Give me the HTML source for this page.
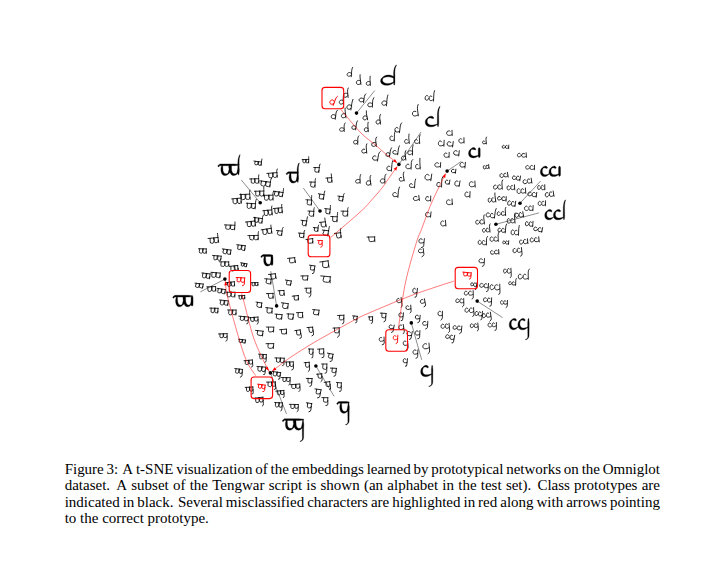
<!DOCTYPE html>
<html><head><meta charset="utf-8"><title>Figure 3</title>
<style>
html,body{margin:0;padding:0;background:#fff;}
body{width:728px;height:566px;position:relative;overflow:hidden;font-family:"Liberation Serif",serif;color:#000;}
.ln{position:absolute;left:64.7px;width:596px;white-space:nowrap;font-size:15px;line-height:17px;height:17px;}
.ln span{position:absolute;top:0;}
svg{position:absolute;left:0;top:0;}
</style></head><body>
<svg width="728" height="566" viewBox="0 0 728 566">
<g fill="none" stroke-linecap="round" stroke-linejoin="round">
<path transform="translate(349.6 72.2) rotate(2.37) translate(-2.23 -0.11)" d="M4.24 1.34 C2.76 -0.44 0 0.44 -0.19 2.54 C0 4.59 2.97 4.9 4.24 2.73 M4.95 -4.75 Q4.33 -3.28 4.24 -1.31 L4.11 4.55" stroke="#000" stroke-width="0.8"/>
<path transform="translate(358.3 79.8) rotate(-7.65) translate(-2.28 -0.13)" d="M4.33 1.6 C2.82 -0.04 0 0.5 0.03 2.9 C0 5.26 3.03 5.55 4.33 3.69 M4.72 -4.65 Q4.42 -3.76 4.33 -1.5 L4.26 5.21" stroke="#000" stroke-width="0.8"/>
<path transform="translate(368.2 81.2) rotate(-4.14) translate(-2.15 -0.11)" d="M4.09 1.08 C2.66 -0.29 0 0.43 0.06 2.52 C0 4.56 2.86 4.8 4.09 2.98 M4.47 -4.72 Q4.17 -3.26 4.09 -1.3 L3.99 4.51" stroke="#000" stroke-width="0.8"/>
<path transform="translate(345.5 92.9) rotate(-4.03) translate(-2.39 -0.12)" d="M4.56 1.35 C2.96 -0.52 0 0.46 0.13 2.69 C0 4.86 3.19 5.3 4.56 3.01 M5.45 -4.61 Q4.65 -3.47 4.56 -1.39 L4.7 4.82" stroke="#000" stroke-width="0.8"/>
<path transform="translate(362 97.7) rotate(8.62) translate(-2.42 -0.11)" d="M4.6 1.29 C2.99 -0.17 0 0.45 -0.16 2.61 C0 4.73 3.22 5.03 4.6 2.81 M5.59 -4.26 Q4.69 -3.38 4.6 -1.35 L4.63 4.68" stroke="#000" stroke-width="0.8"/>
<path transform="translate(370.3 102.5) rotate(3.21) translate(-2.48 -0.11)" d="M4.73 1.42 C3.07 -0.39 0 0.45 0.16 2.62 C0 4.75 3.31 5.31 4.73 3.06 M5.74 -4.92 Q4.83 -3.39 4.73 -1.36 L4.81 4.71" stroke="#000" stroke-width="0.8"/>
<path transform="translate(384.7 100.5) rotate(5.62) translate(-2.38 -0.13)" d="M4.53 1.45 C2.94 -0.27 0 0.52 -0.22 2.99 C0 5.42 3.17 5.76 4.53 3.31 M5 -5.62 Q4.62 -3.87 4.53 -1.55 L4.63 5.37" stroke="#000" stroke-width="0.8"/>
<path transform="translate(341.3 99.8) rotate(-2.57) translate(-2.14 -0.11)" d="M4.07 1.04 C2.65 -0.39 0 0.45 0.02 2.59 C0 4.69 2.85 5.2 4.07 3.21 M5.1 -4.66 Q4.16 -3.35 4.07 -1.34 L4.05 4.64" stroke="#000" stroke-width="0.8"/>
<path transform="translate(349.6 104.6) rotate(8.2) translate(-2.24 -0.13)" d="M4.28 1.26 C2.78 -0.62 0 0.51 -0.11 2.94 C0 5.31 2.99 5.66 4.28 3.5 M4.84 -5.56 Q4.36 -3.8 4.28 -1.52 L4.25 5.26" stroke="#000" stroke-width="0.8"/>
<path transform="translate(333.8 114.2) rotate(8.11) translate(-2.25 -0.12)" d="M4.28 1.44 C2.79 -0.29 0 0.48 0.08 2.76 C0 5 3 5.08 4.28 3.47 M5.3 -4.41 Q4.37 -3.57 4.28 -1.43 L4.39 4.95" stroke="#000" stroke-width="0.8"/>
<path transform="translate(343.4 113.5) rotate(-8.03) translate(-2.26 -0.12)" d="M4.31 1.06 C2.8 -0.69 0 0.46 -0.13 2.67 C0 4.84 3.01 4.97 4.31 3.04 M4.69 -5.07 Q4.39 -3.45 4.31 -1.38 L4.19 4.79" stroke="#000" stroke-width="0.8"/>
<path transform="translate(364.8 115.6) rotate(-9.52) translate(-2.13 -0.11)" d="M4.05 1.45 C2.63 -0.62 0 0.46 -0.1 2.65 C0 4.8 2.83 5.04 4.05 3.03 M4.47 -4.25 Q4.13 -3.43 4.05 -1.37 L4.21 4.75" stroke="#000" stroke-width="0.8"/>
<path transform="translate(377.9 119.7) rotate(-8.37) translate(-2.29 -0.12)" d="M4.37 1.29 C2.84 -0.55 0 0.47 0.14 2.72 C0 4.92 3.06 5.06 4.37 2.92 M5.55 -4.66 Q4.46 -3.51 4.37 -1.41 L4.25 4.87" stroke="#000" stroke-width="0.8"/>
<path transform="translate(342 127.3) rotate(0.03) translate(-2.33 -0.11)" d="M4.44 1.52 C2.88 -0.21 0 0.43 -0.11 2.47 C0 4.47 3.11 4.7 4.44 2.72 M5.48 -4.23 Q4.53 -3.19 4.44 -1.28 L4.54 4.43" stroke="#000" stroke-width="0.8"/>
<path transform="translate(354.2 125.2) rotate(5.42) translate(-2.23 -0.11)" d="M4.25 1.58 C2.76 -0.14 0 0.44 0.14 2.58 C0 4.66 2.98 5.1 4.25 2.87 M5.03 -4.57 Q4.34 -3.33 4.25 -1.33 L4.09 4.62" stroke="#000" stroke-width="0.8"/>
<path transform="translate(366.1 127.3) rotate(-5.08) translate(-2.09 -0.11)" d="M3.98 1.68 C2.59 -0.4 0 0.45 0.17 2.61 C0 4.72 2.79 5.29 3.98 3.3 M4.59 -4.74 Q4.06 -3.37 3.98 -1.35 L3.9 4.67" stroke="#000" stroke-width="0.8"/>
<path transform="translate(355.8 139.9) rotate(1.86) translate(-2.17 -0.11)" d="M4.13 1.57 C2.69 -0.37 0 0.44 0.06 2.56 C0 4.64 2.89 5.11 4.13 2.79 M5.01 -4.06 Q4.22 -3.32 4.13 -1.33 L4.23 4.6" stroke="#000" stroke-width="0.8"/>
<path transform="translate(373.7 142) rotate(-6.61) translate(-2.43 -0.12)" d="M4.62 1.28 C3 -0.15 0 0.47 0.22 2.71 C0 4.91 3.23 5.18 4.62 3.13 M5.86 -4.47 Q4.71 -3.51 4.62 -1.4 L4.5 4.87" stroke="#000" stroke-width="0.8"/>
<path transform="translate(388.2 152.3) rotate(7.19) translate(-2.14 -0.11)" d="M4.07 1.06 C2.65 -0.12 0 0.44 0.2 2.54 C0 4.59 2.85 4.98 4.07 2.89 M4.84 -4.69 Q4.15 -3.28 4.07 -1.31 L3.91 4.55" stroke="#000" stroke-width="0.8"/>
<path transform="translate(410.2 150.2) rotate(0.01) translate(-2.53 -0.12)" d="M4.81 1.4 C3.13 -0.1 0 0.48 0.16 2.81 C0 5.08 3.37 5.25 4.81 3.15 M5.48 -5.09 Q4.91 -3.63 4.81 -1.45 L4.85 5.03" stroke="#000" stroke-width="0.8"/>
<path transform="translate(403.3 155.7) rotate(-7.51) translate(-2.2 -0.12)" d="M4.19 1.28 C2.72 -0.4 0 0.46 0.03 2.68 C0 4.86 2.93 5.4 4.19 3.1 M5.29 -4.62 Q4.27 -3.47 4.19 -1.39 L4.2 4.81" stroke="#000" stroke-width="0.8"/>
<path transform="translate(357.9 179.1) rotate(-1.64) translate(-2.32 -0.11)" d="M4.42 0.94 C2.87 -0.14 0 0.42 -0.14 2.46 C0 4.46 3.09 4.74 4.42 3 M5.27 -4.4 Q4.51 -3.19 4.42 -1.27 L4.43 4.42" stroke="#000" stroke-width="0.8"/>
<path transform="translate(368.2 180.5) rotate(-7.98) translate(-2.34 -0.12)" d="M4.45 1.29 C2.89 -0.57 0 0.5 0.12 2.88 C0 5.22 3.11 5.57 4.45 3.41 M5.48 -4.56 Q4.54 -3.73 4.45 -1.49 L4.43 5.17" stroke="#000" stroke-width="0.8"/>
<path transform="translate(382.7 178.5) rotate(-0.27) translate(-2.36 -0.12)" d="M4.5 1.38 C2.92 -0.35 0 0.47 -0.01 2.73 C0 4.94 3.15 5.52 4.5 3.31 M5.65 -4.29 Q4.59 -3.53 4.5 -1.41 L4.41 4.89" stroke="#000" stroke-width="0.8"/>
<path transform="translate(397.8 127.3) rotate(5.96) translate(-2.56 -0.13)" d="M2.83 0.99 C2.23 -0.67 0 0.51 -0.12 2.81 C0 5.12 2.23 5.47 4.67 4.2 M5.95 -4.71 Q4.99 -3.84 4.9 -1.54 L4.77 5.32" stroke="#000" stroke-width="0.8"/>
<path transform="translate(415 110.8) rotate(-7.28) translate(-2.9 -0.13)" d="M3.72 0.89 C2.52 -0.14 0 0.53 -0.05 2.93 C0 5.34 2.52 5.97 5.3 4.58 M6.8 -5.7 Q5.66 -4 5.55 -1.6 L5.53 5.55" stroke="#000" stroke-width="0.8"/>
<path transform="translate(364.1 148.8) rotate(-6.28) translate(-2.54 -0.11)" d="M3.12 0.65 C2.21 -0.33 0 0.45 -0.03 2.5 C0 4.55 2.21 4.83 4.63 3.55 M5.76 -4.54 Q4.94 -3.41 4.86 -1.36 L4.7 4.73" stroke="#000" stroke-width="0.8"/>
<path transform="translate(375.8 155.7) rotate(8.46) translate(-2.78 -0.12)" d="M3.15 0.72 C2.41 -0.23 0 0.5 -0.11 2.73 C0 4.97 2.41 5.35 5.07 3.93 M6.58 -4.65 Q5.41 -3.73 5.31 -1.49 L5.22 5.17" stroke="#000" stroke-width="0.8"/>
<path transform="translate(392.3 135.8) rotate(0.84) translate(-2.35 -0.13)" d="M2.58 0.75 C2.05 -0.29 0 0.51 -0.03 2.8 C0 5.09 2.05 5.44 4.3 4.34 M5.35 -4.79 Q4.58 -3.82 4.5 -1.53 L4.36 5.3" stroke="#000" stroke-width="0.8"/>
<path transform="translate(395.8 150.2) rotate(6.39) translate(-2.71 -0.11)" d="M3.11 0.89 C2.36 -0.12 0 0.43 -0.11 2.36 C0 4.29 2.36 4.62 4.95 3.45 M5.79 -4.63 Q5.28 -3.22 5.18 -1.29 L5.06 4.46" stroke="#000" stroke-width="0.8"/>
<path transform="translate(406.8 139.2) rotate(-4.07) translate(-2.3 -0.11)" d="M2.85 0.77 C2 -0.35 0 0.44 -0.13 2.43 C0 4.42 2 4.87 4.2 3.28 M4.93 -4.85 Q4.48 -3.31 4.4 -1.33 L4.48 4.6" stroke="#000" stroke-width="0.8"/>
<path transform="translate(417.1 139.2) rotate(-0.98) translate(-2.56 -0.11)" d="M2.81 1.05 C2.22 -0.39 0 0.44 0 2.42 C0 4.41 2.22 5.11 4.67 3.47 M5.7 -4.24 Q4.98 -3.31 4.89 -1.32 L5.06 4.58" stroke="#000" stroke-width="0.8"/>
<path transform="translate(389.6 166) rotate(3.43) translate(-2.45 -0.13)" d="M2.85 0.91 C2.13 -0.67 0 0.5 -0.16 2.76 C0 5.01 2.13 5.36 4.47 4.15 M5.25 -5.35 Q4.77 -3.76 4.69 -1.5 L4.55 5.21" stroke="#000" stroke-width="0.8"/>
<path transform="translate(408.8 164) rotate(2.74) translate(-2.7 -0.13)" d="M3.05 0.88 C2.35 -0.43 0 0.5 -0.16 2.78 C0 5.05 2.35 5.62 4.94 3.9 M6.45 -4.57 Q5.26 -3.79 5.17 -1.51 L5.19 5.25" stroke="#000" stroke-width="0.8"/>
<path transform="translate(417.8 164) rotate(-4.12) translate(-2.4 -0.13)" d="M2.59 0.95 C2.09 -0.43 0 0.51 0 2.83 C0 5.14 2.09 5.57 4.38 4.11 M4.93 -5.38 Q4.68 -3.85 4.59 -1.54 L4.46 5.34" stroke="#000" stroke-width="0.8"/>
<path transform="translate(401.3 177) rotate(-9.57) translate(-2.48 -0.11)" d="M2.79 0.9 C2.16 -0.33 0 0.43 0.11 2.35 C0 4.27 2.16 4.86 4.53 3.53 M5.85 -4.36 Q4.83 -3.2 4.74 -1.28 L4.68 4.44" stroke="#000" stroke-width="0.8"/>
<path transform="translate(412.3 183.3) rotate(3.76) translate(-2.78 -0.11)" d="M3.02 1.05 C2.41 -0.14 0 0.44 0.06 2.4 C0 4.37 2.41 5.02 5.07 3.66 M5.83 -4.35 Q5.41 -3.28 5.31 -1.31 L5.31 4.55" stroke="#000" stroke-width="0.8"/>
<path transform="translate(395.8 192.2) rotate(5.7) translate(-2.7 -0.12)" d="M3.41 1.11 C2.35 -0.28 0 0.5 -0.13 2.74 C0 4.99 2.35 5.3 4.93 3.77 M5.88 -5.38 Q5.26 -3.74 5.16 -1.5 L5.29 5.19" stroke="#000" stroke-width="0.8"/>
<path transform="translate(439.3 182.1) rotate(1.9) translate(-2.56 -0.12)" d="M3.02 0.68 C2.23 -0.21 0 0.48 0.11 2.65 C0 4.82 2.23 5.4 4.67 3.88 M5.84 -5.24 Q4.99 -3.62 4.9 -1.45 L4.98 5.01" stroke="#000" stroke-width="0.8"/>
<path transform="translate(484.3 140.6) rotate(-4.95) translate(-1.92 -0.09)" d="M2.16 0.79 C1.67 -0.08 0 0.34 0 1.89 C0 3.44 1.67 3.8 3.51 2.74 M4.41 -3.26 Q3.75 -2.58 3.68 -1.03 L3.71 3.58" stroke="#000" stroke-width="0.8"/>
<path transform="translate(416.4 198.4) rotate(-7.2) translate(-2.86 -2.48)" d="M3.53 0.84 C2.49 -0.34 0 0.47 -0.24 2.6 C0 4.73 2.49 5.05 5.23 3.66 M5.56 -0.09 L5.57 4.92" stroke="#000" stroke-width="0.8"/>
<path transform="translate(449.6 133) rotate(-0.19) translate(-2.88 -2.6)" d="M3.39 0.76 C2.51 -0.16 0 0.5 -0.15 2.72 C0 4.95 2.51 5.83 5.26 4.22 M5.27 -0.1 L5.49 5.15" stroke="#000" stroke-width="0.8"/>
<path transform="translate(441.3 143.4) rotate(-1.46) translate(-2.96 -2.97)" d="M3.32 1.43 C2.57 -0.65 0 0.57 0.04 3.11 C0 5.65 2.57 6.09 5.41 4.54 M5.9 -0.11 L5.48 5.88" stroke="#000" stroke-width="0.8"/>
<path transform="translate(450.3 144) rotate(6.85) translate(-2.96 -2.72)" d="M3.34 1.28 C2.57 -0.42 0 0.52 -0.24 2.85 C0 5.18 2.57 5.49 5.41 4.14 M5.64 -0.1 L5.56 5.39" stroke="#000" stroke-width="0.8"/>
<path transform="translate(461.6 140.6) rotate(-3.99) translate(-2.58 -2.63)" d="M2.79 1.15 C2.25 -0.2 0 0.5 -0.17 2.75 C0 5.01 2.25 5.87 4.72 4.13 M5.12 -0.1 L4.85 5.21" stroke="#000" stroke-width="0.8"/>
<path transform="translate(456.5 153) rotate(8.98) translate(-2.71 -2.66)" d="M3.13 0.97 C2.36 -0.54 0 0.51 -0.21 2.78 C0 5.06 2.36 5.42 4.95 4.25 M5.09 -0.1 L5.39 5.26" stroke="#000" stroke-width="0.8"/>
<path transform="translate(446.6 155) rotate(-0.29) translate(-2.64 -2.59)" d="M3.06 1.26 C2.3 -0.17 0 0.49 0.14 2.71 C0 4.93 2.3 5.6 4.83 4.19 M5.26 -0.1 L5.08 5.12" stroke="#000" stroke-width="0.8"/>
<path transform="translate(437.9 164.9) rotate(3.91) translate(-2.91 -2.47)" d="M3.59 1.02 C2.53 -0.5 0 0.47 -0.23 2.59 C0 4.7 2.53 5.51 5.31 3.55 M5.54 -0.09 L5.48 4.89" stroke="#000" stroke-width="0.8"/>
<path transform="translate(462.7 164.9) rotate(8.55) translate(-2.67 -2.84)" d="M3.25 0.95 C2.32 -0.4 0 0.54 -0.05 2.98 C0 5.42 2.32 5.85 4.88 4.11 M4.97 -0.11 L5.3 5.63" stroke="#000" stroke-width="0.8"/>
<path transform="translate(453.7 171.1) rotate(7.22) translate(-2.23 -2.05)" d="M2.61 0.61 C1.93 -0.46 0 0.39 -0.16 2.15 C0 3.9 1.93 4.3 4.06 2.93 M4.16 -0.08 L4.16 4.06" stroke="#000" stroke-width="0.8"/>
<path transform="translate(428.3 177.3) rotate(4.24) translate(-3.25 -3.36)" d="M3.78 1.3 C2.82 -0.61 0 0.64 -0.09 3.52 C0 6.41 2.82 6.84 5.93 4.95 M6.47 -0.13 L6 6.66" stroke="#000" stroke-width="0.8"/>
<path transform="translate(447.5 182.1) rotate(6.39) translate(-2.23 -2.23)" d="M2.53 0.72 C1.94 -0.39 0 0.42 -0.02 2.33 C0 4.24 1.94 4.98 4.07 3.57 M4.41 -0.08 L4.08 4.41" stroke="#000" stroke-width="0.8"/>
<path transform="translate(457.2 183.5) rotate(7.02) translate(-2.52 -2.83)" d="M3.03 0.75 C2.19 -0.5 0 0.54 0.19 2.96 C0 5.39 2.19 6.24 4.61 4.54 M5.03 -0.11 L4.72 5.6" stroke="#000" stroke-width="0.8"/>
<path transform="translate(472.3 184.2) rotate(-0.08) translate(-3.08 -3.03)" d="M3.92 1.31 C2.68 -0.36 0 0.58 0.14 3.18 C0 5.78 2.68 6.44 5.62 4.66 M5.64 -0.12 L6.04 6.01" stroke="#000" stroke-width="0.8"/>
<path transform="translate(467.5 194.5) rotate(2.26) translate(-2.63 -2.94)" d="M2.91 0.95 C2.29 -0.36 0 0.56 0.09 3.08 C0 5.6 2.29 6.02 4.81 4.19 M5.05 -0.11 L5.08 5.83" stroke="#000" stroke-width="0.8"/>
<path transform="translate(428.3 198.6) rotate(1.42) translate(-2.72 -2.56)" d="M3.1 0.95 C2.37 -0.12 0 0.49 0.07 2.69 C0 4.88 2.37 5.7 4.97 3.89 M5.08 -0.1 L5.09 5.08" stroke="#000" stroke-width="0.8"/>
<path transform="translate(449.6 202.1) rotate(-4.16) translate(-3.04 -2.83)" d="M3.59 1.19 C2.64 -0.48 0 0.54 -0.13 2.96 C0 5.38 2.64 6.14 5.55 4.58 M5.67 -0.11 L5.57 5.6" stroke="#000" stroke-width="0.8"/>
<path transform="translate(428.3 214.5) rotate(2.97) translate(-2.69 -2.67)" d="M3.35 1.16 C2.34 -0.4 0 0.51 -0.14 2.8 C0 5.09 2.34 5.99 4.92 3.96 M5.3 -0.1 L5.03 5.29" stroke="#000" stroke-width="0.8"/>
<path transform="translate(443.4 223.4) rotate(-4.4) translate(-2.63 -2.86)" d="M3.11 0.88 C2.29 -0.62 0 0.54 -0.04 2.99 C0 5.44 2.29 6.2 4.8 4.64 M4.87 -0.11 L4.98 5.66" stroke="#000" stroke-width="0.8"/>
<path transform="translate(486.1 167) rotate(-7.3) translate(-2.89 -2.03)" d="M1.68 0.72 C1.34 -0.12 0 0.39 0.1 2.12 C0 3.86 1.34 4.43 2.42 3.24 M4.65 0.69 C4.03 -0.45 2.69 0.39 2.8 2.12 C2.69 3.86 4.03 4.44 5.51 2.87 M5.69 -0.08 L5.61 4.01" stroke="#000" stroke-width="0.8"/>
<path transform="translate(504 175.2) rotate(-6.78) translate(-3.98 -2.38)" d="M2.42 0.83 C1.85 -0.12 0 0.45 -0.14 2.5 C0 4.54 1.85 5.34 3.33 3.38 M6.16 1.08 C5.56 -0.19 3.7 0.45 3.68 2.5 C3.7 4.54 5.56 4.84 7.59 3.62 M7.73 -0.09 L7.93 4.72" stroke="#000" stroke-width="0.8"/>
<path transform="translate(516.4 178) rotate(7.04) translate(-3.83 -2.4)" d="M2.39 1.09 C1.78 -0.22 0 0.46 -0.16 2.51 C0 4.57 1.78 4.87 3.21 3.33 M6.17 0.78 C5.35 -0.23 3.57 0.46 3.71 2.51 C3.57 4.57 5.35 5.03 7.31 3.53 M7.65 -0.09 L7.53 4.76" stroke="#000" stroke-width="0.8"/>
<path transform="translate(510.9 187.6) rotate(-3.99) translate(-3.89 -2.57)" d="M2.25 1.13 C1.81 -0.15 0 0.49 0.05 2.7 C0 4.9 1.81 5.75 3.26 3.54 M5.96 0.97 C5.43 -0.12 3.62 0.49 3.78 2.7 C3.62 4.9 5.43 5.43 7.42 3.78 M7.58 -0.1 L7.6 5.1" stroke="#000" stroke-width="0.8"/>
<path transform="translate(502 198.6) rotate(5.25) translate(-4.43 -2.31)" d="M2.97 1.02 C2.06 -0.3 0 0.44 -0.07 2.42 C0 4.4 2.06 4.83 4.13 2.35 M7.07 0.66 C6.19 -0.51 4.13 0.44 4.23 2.42 C4.13 4.4 6.19 4.8 8.46 3.29 M8.47 -0.09 L8.68 4.58" stroke="#000" stroke-width="0.8"/>
<path transform="translate(511.6 203.5) rotate(6.79) translate(-3.94 -2.7)" d="M2.39 0.77 C1.83 -0.66 0 0.52 0 2.83 C0 5.15 1.83 5.9 3.67 2.8 M6.04 0.98 C5.5 -0.34 3.67 0.52 3.73 2.83 C3.67 5.15 5.5 5.92 7.52 4.34 M7.76 -0.1 L7.56 5.36" stroke="#000" stroke-width="0.8"/>
<path transform="translate(505.5 146.9) rotate(0.77) translate(-3.27 -1.77)" d="M2.16 0.55 C1.52 -0.37 0 0.34 -0.08 1.86 C0 3.38 1.52 3.64 3.04 2.01 M5.14 0.61 C4.57 -0.31 3.04 0.34 3.19 1.86 C3.04 3.38 4.57 3.79 6.24 2.59 M6.49 -0.07 L6.44 3.51" stroke="#000" stroke-width="0.8"/>
<path transform="translate(522 155.2) rotate(-0.98) translate(-4.49 -2.27)" d="M3.01 1.08 C2.09 -0.58 0 0.43 -0.09 2.38 C0 4.33 2.09 4.65 4.17 2.22 M7.25 0.91 C6.26 -0.12 4.17 0.43 4.12 2.38 C4.17 4.33 6.26 5.04 8.55 3.43 M8.66 -0.09 L8.88 4.5" stroke="#000" stroke-width="0.8"/>
<path transform="translate(530.3 167.5) rotate(1.33) translate(-4.45 -2.27)" d="M2.67 0.8 C2.07 -0.53 0 0.43 -0.12 2.38 C0 4.33 2.07 4.72 4.14 2.43 M7.03 0.71 C6.21 -0.6 4.14 0.43 4.07 2.38 C4.14 4.33 6.21 4.94 8.48 3.3 M8.61 -0.09 L8.57 4.5" stroke="#000" stroke-width="0.8"/>
<path transform="translate(527.5 181.3) rotate(-8.8) translate(-4.33 -2.49)" d="M2.69 0.98 C2.01 -0.3 0 0.47 -0.16 2.61 C0 4.75 2.01 5.12 3.62 3.81 M6.72 0.83 C6.04 -0.49 4.02 0.47 4.21 2.61 C4.02 4.75 6.04 5.21 8.25 3.83 M8.39 -0.09 L8.42 4.93" stroke="#000" stroke-width="0.8"/>
<path transform="translate(521.3 191) rotate(-3.09) translate(-4.38 -2.71)" d="M2.88 0.85 C2.04 -0.72 0 0.52 0.16 2.84 C0 5.17 2.04 5.74 3.67 4.23 M6.8 1.27 C6.12 -0.44 4.08 0.52 3.94 2.84 C4.08 5.17 6.12 5.49 8.36 4.17 M8.62 -0.1 L8.73 5.37" stroke="#000" stroke-width="0.8"/>
<path transform="translate(541.3 187.5) rotate(-2.95) translate(-3.75 -2.53)" d="M2.22 0.84 C1.74 -0.37 0 0.48 0.15 2.65 C0 4.81 1.74 5.17 3.49 2.64 M5.99 1.23 C5.23 -0.56 3.49 0.48 3.36 2.65 C3.49 4.81 5.23 5.65 7.15 4.13 M7.32 -0.1 L7.17 5.01" stroke="#000" stroke-width="0.8"/>
<path transform="translate(532.4 194.4) rotate(7.18) translate(-4.43 -2.41)" d="M2.96 0.73 C2.06 -0.21 0 0.46 -0.11 2.53 C0 4.59 2.06 5.09 4.12 2.72 M7.09 0.74 C6.19 -0.52 4.12 0.46 4.08 2.53 C4.12 4.59 6.19 5.16 8.45 3.61 M8.5 -0.09 L8.56 4.78" stroke="#000" stroke-width="0.8"/>
<path transform="translate(549.6 194.4) rotate(-9.22) translate(-4.27 -2.66)" d="M2.82 0.73 C1.99 -0.2 0 0.51 -0.15 2.79 C0 5.07 1.99 5.74 3.97 2.82 M6.73 0.9 C5.96 -0.45 3.97 0.51 4 2.79 C3.97 5.07 5.96 5.64 8.14 4.16 M8.32 -0.1 L8.31 5.28" stroke="#000" stroke-width="0.8"/>
<path transform="translate(542 203.4) rotate(-0.7) translate(-3.7 -2.53)" d="M2.45 1.12 C1.72 -0.41 0 0.48 -0.11 2.65 C0 4.81 1.72 5.37 3.09 3.53 M5.62 0.92 C5.16 -0.62 3.44 0.48 3.42 2.65 C3.44 4.81 5.16 5.4 7.05 3.58 M7.27 -0.1 L7.08 5" stroke="#000" stroke-width="0.8"/>
<path transform="translate(528.9 208.2) rotate(-0.28) translate(-4.28 -2.6)" d="M2.71 0.92 C1.99 -0.13 0 0.5 -0.14 2.73 C0 4.96 1.99 5.77 3.58 4.16 M6.79 1.18 C5.97 -0.58 3.98 0.5 4.17 2.73 C3.98 4.96 5.97 5.55 8.15 4.24 M8.52 -0.1 L8.22 5.16" stroke="#000" stroke-width="0.8"/>
<path transform="translate(519.3 215) rotate(-8.76) translate(-4.32 -2.68)" d="M2.86 0.81 C2.01 -0.17 0 0.51 -0.09 2.81 C0 5.1 2.01 5.91 4.02 2.59 M6.75 1.28 C6.03 -0.59 4.02 0.51 3.92 2.81 C4.02 5.1 6.03 5.72 8.24 3.97 M8.25 -0.1 L8.31 5.31" stroke="#000" stroke-width="0.8"/>
<path transform="translate(529.2 223.9) rotate(2.91) translate(-3.81 -2.68)" d="M2.27 1.2 C1.77 -0.64 0 0.51 0.01 2.81 C0 5.11 1.77 5.81 3.54 2.72 M6.11 1.06 C5.31 -0.36 3.54 0.51 3.68 2.81 C3.54 5.11 5.31 5.48 7.26 4.39 M7.49 -0.1 L7.4 5.31" stroke="#000" stroke-width="0.8"/>
<path transform="translate(538.2 229.4) rotate(8.82) translate(-4.33 -2.35)" d="M2.67 1.04 C2.01 -0.39 0 0.45 -0.13 2.46 C0 4.48 2.01 5.15 4.03 2.22 M6.92 0.76 C6.04 -0.28 4.03 0.45 4.22 2.46 C4.03 4.48 6.04 5.06 8.25 3.67 M8.38 -0.09 L8.25 4.66" stroke="#000" stroke-width="0.8"/>
<path transform="translate(505.8 242.5) rotate(1.7) translate(-2.96 -1.84)" d="M1.88 0.87 C1.38 -0.43 0 0.35 -0.08 1.92 C0 3.5 1.38 3.98 2.76 1.72 M4.47 0.64 C4.13 -0.44 2.76 0.35 2.72 1.92 C2.76 3.5 4.13 3.8 5.65 2.83 M5.81 -0.07 L5.71 3.64" stroke="#000" stroke-width="0.8"/>
<path transform="translate(523.7 241.8) rotate(-7.44) translate(-4.19 -2.46)" d="M2.53 0.74 C1.95 -0.6 0 0.47 0.05 2.57 C0 4.68 1.95 5.45 3.89 2.73 M6.5 0.8 C5.84 -0.65 3.89 0.47 3.95 2.57 C3.89 4.68 5.84 5.27 7.98 3.66 M8.23 -0.09 L8.16 4.86" stroke="#000" stroke-width="0.8"/>
<path transform="translate(534.7 239.8) rotate(-5.28) translate(-4.44 -2.58)" d="M2.58 1 C2.07 -0.45 0 0.49 -0.11 2.71 C0 4.92 2.07 5.25 4.13 2.87 M6.7 1.01 C6.2 -0.13 4.13 0.49 3.98 2.71 C4.13 4.92 6.2 5.33 8.47 4 M8.68 -0.1 L8.74 5.12" stroke="#000" stroke-width="0.8"/>
<path transform="translate(494.8 252.2) rotate(-4.12) translate(-4.34 -2.31)" d="M2.53 1.08 C2.02 -0.2 0 0.44 0.09 2.42 C0 4.39 2.02 4.66 3.63 3.61 M6.9 0.86 C6.06 -0.22 4.04 0.44 4.02 2.42 C4.04 4.39 6.06 4.78 8.28 3.31 M8.37 -0.09 L8.29 4.57" stroke="#000" stroke-width="0.8"/>
<path transform="translate(429.6 95.8) rotate(3.21) translate(-4.35 -0.54)" d="M2.85 0.93 C2.02 -0.4 0 0.54 -0.03 2.99 C0 5.43 2.02 6.27 4.04 3 M6.68 1.18 C6.06 -0.13 4.04 0.54 3.93 2.99 C4.04 5.43 6.06 6.33 8.29 4.03 M9.02 -4.9 Q8.57 -3.46 8.49 -1.63 L8.57 5.65" stroke="#000" stroke-width="0.8"/>
<path transform="translate(497.8 184.9) rotate(-3.79) translate(-4.45 -0.49)" d="M2.73 0.83 C2.07 -0.15 0 0.49 0.05 2.71 C0 4.93 2.07 5.64 4.14 2.81 M7.19 0.97 C6.21 -0.19 4.14 0.49 4.22 2.71 C4.14 4.93 6.21 5.73 8.48 3.91 M9.62 -4.12 Q8.77 -3.14 8.69 -1.48 L8.63 5.13" stroke="#000" stroke-width="0.8"/>
<path transform="translate(491.6 198) rotate(-8.52) translate(-3.85 -0.48)" d="M2.28 0.69 C1.79 -0.61 0 0.48 0.15 2.65 C0 4.82 1.79 5.3 3.58 2.44 M5.81 0.7 C5.37 -0.27 3.58 0.48 3.63 2.65 C3.58 4.82 5.37 5.51 7.34 3.99 M7.85 -4.01 Q7.59 -3.07 7.52 -1.44 L7.48 5.01" stroke="#000" stroke-width="0.8"/>
<path transform="translate(490.9 213.1) rotate(6.93) translate(-4.34 -0.5)" d="M2.93 1.25 C2.02 -0.13 0 0.5 -0.16 2.75 C0 5 2.02 5.42 3.64 3.67 M6.56 1.21 C6.06 -0.21 4.04 0.5 4.1 2.75 C4.04 5 6.06 5.8 8.28 4.08 M9.04 -4.65 Q8.57 -3.19 8.49 -1.5 L8.36 5.2" stroke="#000" stroke-width="0.8"/>
<path transform="translate(501.3 211.7) rotate(-3.94) translate(-4.3 -0.44)" d="M2.49 0.76 C2 -0.47 0 0.44 0.09 2.43 C0 4.42 2 4.88 4 2.34 M6.94 0.89 C5.99 -0.17 4 0.44 4.04 2.43 C4 4.42 5.99 4.7 8.19 3.49 M9.06 -3.52 Q8.47 -2.82 8.39 -1.33 L8.34 4.6" stroke="#000" stroke-width="0.8"/>
<path transform="translate(479.9 220) rotate(-5.89) translate(-4.25 -0.47)" d="M2.5 1.13 C1.98 -0.57 0 0.47 -0.2 2.6 C0 4.74 1.98 5.13 3.96 2.75 M6.87 0.67 C5.93 -0.38 3.96 0.47 3.95 2.6 C3.96 4.74 5.93 5.47 8.11 3.61 M9.01 -4.17 Q8.39 -3.02 8.31 -1.42 L8.41 4.93" stroke="#000" stroke-width="0.8"/>
<path transform="translate(510.9 218.6) rotate(-4.61) translate(-3.89 -0.51)" d="M2.55 1.02 C1.81 -0.65 0 0.51 0.05 2.81 C0 5.12 1.81 5.47 3.26 4.17 M6.16 1.2 C5.43 -0.33 3.62 0.51 3.57 2.81 C3.62 5.12 5.43 5.67 7.42 4.03 M8.53 -4.77 Q7.67 -3.26 7.6 -1.54 L7.71 5.32" stroke="#000" stroke-width="0.8"/>
<path transform="translate(486.1 228.3) rotate(-5) translate(-3.7 -0.44)" d="M2.34 0.82 C1.72 -0.15 0 0.44 -0.09 2.43 C0 4.42 1.72 4.93 3.44 2.45 M5.88 1.02 C5.16 -0.28 3.44 0.44 3.39 2.43 C3.44 4.42 5.16 4.86 7.05 3.36 M8.08 -3.62 Q7.29 -2.82 7.22 -1.33 L7.29 4.6" stroke="#000" stroke-width="0.8"/>
<path transform="translate(502 228.3) rotate(4.7) translate(-3.82 -0.46)" d="M2.25 0.91 C1.77 -0.16 0 0.46 -0.09 2.55 C0 4.64 1.77 5.03 3.55 2.44 M6.05 1.12 C5.32 -0.56 3.55 0.46 3.43 2.55 C3.55 4.64 5.32 5.06 7.28 3.62 M8.11 -4.26 Q7.52 -2.96 7.45 -1.39 L7.4 4.83" stroke="#000" stroke-width="0.8"/>
<path transform="translate(515 230.3) rotate(3.85) translate(-3.83 -0.51)" d="M2.62 0.78 C1.78 -0.48 0 0.51 0.17 2.83 C0 5.15 1.78 5.95 3.21 4.16 M5.96 0.84 C5.35 -0.33 3.56 0.51 3.42 2.83 C3.56 5.15 5.35 5.58 7.31 4.05 M7.79 -4.48 Q7.56 -3.28 7.48 -1.54 L7.57 5.35" stroke="#000" stroke-width="0.8"/>
<path transform="translate(482.4 240.5) rotate(2.02) translate(-4.24 -0.47)" d="M2.51 1 C1.97 -0.43 0 0.47 0.1 2.59 C0 4.7 1.97 5.49 3.95 2.55 M6.67 1.08 C5.92 -0.42 3.95 0.47 3.84 2.59 C3.95 4.7 5.92 5.39 8.09 3.97 M9.22 -3.81 Q8.37 -3 8.29 -1.41 L8.4 4.89" stroke="#000" stroke-width="0.8"/>
<path transform="translate(494.1 237) rotate(-1.38) translate(-4.23 -0.48)" d="M2.74 0.73 C1.97 -0.43 0 0.48 0.11 2.66 C0 4.83 1.97 5.54 3.54 3.84 M6.5 0.92 C5.9 -0.41 3.94 0.48 3.98 2.66 C3.94 4.83 5.9 5.36 8.07 3.97 M9.31 -4.41 Q8.35 -3.08 8.27 -1.45 L8.32 5.03" stroke="#000" stroke-width="0.8"/>
<path transform="translate(523.3 274.3) rotate(-0.69) translate(-5.17 -0.55)" d="M3.01 1.13 C2.41 -0.67 0 0.55 0.14 3.03 C0 5.51 2.41 6.47 4.81 3.05 M7.86 1.15 C7.22 -0.41 4.81 0.55 4.92 3.03 C4.81 5.51 7.22 6.18 9.87 4.5 M11.29 -4.66 Q10.21 -3.52 10.11 -1.65 L10.07 5.74" stroke="#000" stroke-width="0.8"/>
<path transform="translate(512.3 281.9) rotate(3) translate(-3.56 -0.35)" d="M2.36 0.55 C1.66 -0.08 0 0.35 -0.05 1.95 C0 3.54 1.66 3.78 3.31 1.85 M5.52 0.5 C4.97 -0.32 3.31 0.35 3.29 1.95 C3.31 3.54 4.97 4.05 6.79 2.77 M7.4 -3.21 Q7.02 -2.26 6.96 -1.06 L7.02 3.68" stroke="#000" stroke-width="0.8"/>
<path transform="translate(517.5 252.2) rotate(-5.84) translate(-4.44 -4.25)" d="M2.76 0.78 C2.07 -0.59 0 0.47 0.11 2.6 C0 4.73 2.07 5.47 4.13 2.68 M6.93 0.98 C6.2 -0.53 4.13 0.47 4.33 2.6 C4.13 4.73 6.2 5.21 8.48 3.86 M8.81 0 L8.79 6.62 Q8.68 8.24 7.07 8.55" stroke="#000" stroke-width="0.8"/>
<path transform="translate(507.5 272.9) rotate(-3.26) translate(-3.78 -4.51)" d="M2.29 0.93 C1.76 -0.55 0 0.5 -0.03 2.76 C0 5.01 1.76 5.43 3.52 2.46 M6 0.87 C5.27 -0.55 3.52 0.5 3.45 2.76 C3.52 5.01 5.27 5.6 7.21 3.97 M7.43 0 L7.43 7.02 Q7.38 8.64 6.45 9.38" stroke="#000" stroke-width="0.8"/>
<path transform="translate(473.7 286) rotate(7.21) translate(-2.98 -3.61)" d="M1.76 0.96 C1.39 -0.26 0 0.4 -0.13 2.2 C0 4.01 1.39 4.25 2.77 2.42 M4.71 0.68 C4.16 -0.51 2.77 0.4 2.67 2.2 C2.77 4.01 4.16 4.36 5.68 3.34 M5.78 0 L5.74 5.61 Q5.82 7.34 5.01 6.95" stroke="#000" stroke-width="0.8"/>
<path transform="translate(484.1 287.4) rotate(4.84) translate(-4.4 -4.32)" d="M2.98 1.13 C2.05 -0.19 0 0.48 -0.12 2.64 C0 4.8 2.05 5.49 4.1 2.66 M7 0.92 C6.15 -0.16 4.1 0.48 4.12 2.64 C4.1 4.8 6.15 5.24 8.4 3.69 M8.46 0 L8.6 6.72 Q8.6 7.98 7.14 8.3" stroke="#000" stroke-width="0.8"/>
<path transform="translate(495.1 289.4) rotate(0.25) translate(-5.1 -5.29)" d="M2.94 1.41 C2.37 -0.49 0 0.59 0.03 3.23 C0 5.87 2.37 6.69 4.74 3.47 M7.9 1.12 C7.11 -0.15 4.74 0.59 4.54 3.23 C4.74 5.87 7.11 6.67 9.72 4.79 M9.73 0 L10 8.22 Q9.96 10.49 8.71 10.37" stroke="#000" stroke-width="0.8"/>
<path transform="translate(468.9 294.9) rotate(-0.79) translate(-4.48 -4.24)" d="M2.6 1.07 C2.08 -0.31 0 0.47 -0.07 2.59 C0 4.71 2.08 5.48 4.17 2.51 M6.99 0.96 C6.25 -0.22 4.17 0.47 4.05 2.59 C4.17 4.71 6.25 5.24 8.54 3.72 M8.77 0 L8.86 6.59 Q8.75 8.05 7.56 8.39" stroke="#000" stroke-width="0.8"/>
<path transform="translate(460 302.5) rotate(-0.38) translate(-4.09 -4.04)" d="M2.66 1.05 C1.9 -0.45 0 0.45 -0.07 2.47 C0 4.49 1.9 4.92 3.8 2.51 M6.45 1.05 C5.7 -0.61 3.8 0.45 3.89 2.47 C3.8 4.49 5.7 5.23 7.8 3.61 M7.81 0 L7.93 6.28 Q7.99 7.41 6.42 8.45" stroke="#000" stroke-width="0.8"/>
<path transform="translate(487.5 301.8) rotate(4.99) translate(-4.17 -4.36)" d="M2.69 1.04 C1.94 -0.31 0 0.48 0.08 2.67 C0 4.85 1.94 5.49 3.88 2.77 M6.39 1.07 C5.82 -0.41 3.88 0.48 3.98 2.67 C3.88 4.85 5.82 5.2 7.96 3.69 M7.97 0 L8.24 6.79 Q8.15 8.89 6.92 8.6" stroke="#000" stroke-width="0.8"/>
<path transform="translate(504 303.9) rotate(0.68) translate(-3.48 -3.58)" d="M2.12 0.76 C1.62 -0.4 0 0.4 -0.02 2.19 C0 3.98 1.62 4.52 2.91 3.31 M5.26 0.83 C4.85 -0.54 3.24 0.4 3.11 2.19 C3.24 3.98 4.85 4.6 6.63 3.22 M6.93 0 L6.78 5.57 Q6.8 6.57 5.59 7.23" stroke="#000" stroke-width="0.8"/>
<path transform="translate(469.6 312.2) rotate(-0.97) translate(-4.44 -4.64)" d="M2.61 1.12 C2.07 -0.59 0 0.52 -0.14 2.83 C0 5.15 2.07 5.47 4.13 2.53 M7.03 0.8 C6.2 -0.12 4.13 0.52 3.96 2.83 C4.13 5.15 6.2 6 8.47 3.89 M8.48 0 L8.75 7.21 Q8.68 8.75 7.43 8.95" stroke="#000" stroke-width="0.8"/>
<path transform="translate(478.6 315.6) rotate(3.56) translate(-3.72 -4.46)" d="M2.45 0.74 C1.73 -0.32 0 0.5 0.07 2.73 C0 4.96 1.73 5.53 3.46 2.98 M5.71 1.27 C5.19 -0.27 3.46 0.5 3.29 2.73 C3.46 4.96 5.19 5.26 7.09 4.06 M7.37 0 L7.15 6.94 Q7.26 8.49 6.21 8.59" stroke="#000" stroke-width="0.8"/>
<path transform="translate(486.8 317) rotate(-8.86) translate(-4.38 -4.22)" d="M2.81 0.9 C2.04 -0.28 0 0.47 -0.14 2.58 C0 4.69 2.04 5.42 4.07 2.5 M6.92 1.01 C6.11 -0.42 4.07 0.47 4.03 2.58 C4.07 4.69 6.11 5.41 8.35 4 M8.67 0 L8.58 6.56 Q8.56 8.01 6.77 8.88" stroke="#000" stroke-width="0.8"/>
<path transform="translate(445.5 328) rotate(-3.69) translate(-4.25 -4.51)" d="M2.92 1.2 C1.98 -0.34 0 0.5 -0.08 2.75 C0 5.01 1.98 5.57 3.95 2.99 M6.59 1.11 C5.93 -0.34 3.95 0.5 4.11 2.75 C3.95 5.01 5.93 5.79 8.11 3.88 M8.11 0 L8.23 7.01 Q8.3 8.69 6.99 9.33" stroke="#000" stroke-width="0.8"/>
<path transform="translate(457.2 329.4) rotate(5.83) translate(-4.4 -3.84)" d="M2.96 0.89 C2.05 -0.46 0 0.43 0.14 2.35 C0 4.27 2.05 4.94 4.09 2.44 M7.08 0.78 C6.14 -0.55 4.09 0.43 4.12 2.35 C4.09 4.27 6.14 4.93 8.39 3.26 M8.7 0 L8.74 5.98 Q8.6 7.24 7.25 7.84" stroke="#000" stroke-width="0.8"/>
<path transform="translate(474.4 327.3) rotate(-5.16) translate(-4.06 -3.98)" d="M2.7 0.86 C1.89 -0.57 0 0.44 0.12 2.43 C0 4.42 1.89 5.1 3.77 2.29 M6.38 1.1 C5.66 -0.15 3.77 0.44 3.78 2.43 C3.77 4.42 5.66 4.94 7.74 3.59 M7.81 0 L7.83 6.19 Q7.92 7.46 6.76 7.84" stroke="#000" stroke-width="0.8"/>
<path transform="translate(492.3 326.6) rotate(-0.17) translate(-4.14 -4.15)" d="M2.41 1.2 C1.92 -0.44 0 0.46 -0.15 2.53 C0 4.61 1.92 5.23 3.46 3.75 M6.31 0.98 C5.77 -0.45 3.85 0.46 3.86 2.53 C3.85 4.61 5.77 4.9 7.89 3.43 M8.27 0 L8.2 6.45 Q8.08 8.05 6.79 8.08" stroke="#000" stroke-width="0.8"/>
<path transform="translate(449.9 338.8) rotate(7.98) translate(-4.31 -4.17)" d="M2.88 1.18 C2.01 -0.51 0 0.46 -0.19 2.55 C0 4.63 2.01 5.02 4.01 2.37 M6.54 0.68 C6.02 -0.34 4.01 0.46 4.16 2.55 C4.01 4.63 6.02 5.16 8.22 3.95 M8.59 0 L8.29 6.48 Q8.43 8.19 6.94 7.98" stroke="#000" stroke-width="0.8"/>
<path transform="translate(481.7 262.5) rotate(0.73) translate(-2.76 -4.02)" d="M3.53 0.99 C2.4 -0.42 0 0.45 -0.02 2.46 C0 4.47 2.4 4.83 5.04 3.83 M5.52 0 L5.18 6.26 Q5.28 7.41 3.37 7.92" stroke="#000" stroke-width="0.8"/>
<path transform="translate(421.3 242.9) rotate(5.91) translate(-2.73 -4.57)" d="M3.4 1.14 C2.38 -0.32 0 0.51 0.23 2.79 C0 5.08 2.38 5.42 4.99 3.85 M5.35 0 L5.4 7.11 Q5.23 9.07 3.37 9.24" stroke="#000" stroke-width="0.8"/>
<path transform="translate(421.3 252.5) rotate(-3.85) translate(-2.66 -3.9)" d="M2.94 0.86 C2.31 -0.52 0 0.43 -0.12 2.38 C0 4.33 2.31 4.66 4.86 3.56 M4.86 0 L5.17 6.06 Q5.09 7.31 3.04 8.16" stroke="#000" stroke-width="0.8"/>
<path transform="translate(414.8 292.6) rotate(6.47) translate(-2.39 -4.6)" d="M2.65 0.99 C2.08 -0.66 0 0.51 0.18 2.81 C0 5.11 2.08 5.93 4.36 4.17 M4.55 0 L4.52 7.15 Q4.57 9.27 3.1 9.33" stroke="#000" stroke-width="0.8"/>
<path transform="translate(423 303) rotate(-8.92) translate(-2.35 -3.99)" d="M2.8 0.7 C2.04 -0.16 0 0.44 -0.1 2.44 C0 4.44 2.04 4.92 4.29 3.37 M4.4 0 L4.61 6.21 Q4.49 7.62 2.79 7.98" stroke="#000" stroke-width="0.8"/>
<path transform="translate(399.6 302.3) rotate(-7.83) translate(-2.44 -4.57)" d="M2.66 1.26 C2.12 -0.3 0 0.51 -0.12 2.79 C0 5.08 2.12 5.67 4.45 3.93 M4.56 0 L4.56 7.11 Q4.66 8.75 3.6 9.65" stroke="#000" stroke-width="0.8"/>
<path transform="translate(408.6 309.2) rotate(-4.5) translate(-2.75 -3.89)" d="M2.99 0.98 C2.39 -0.45 0 0.43 0.23 2.38 C0 4.32 2.39 4.59 5.01 3.62 M5.18 0 L5.11 6.05 Q5.25 7.13 3.9 7.8" stroke="#000" stroke-width="0.8"/>
<path transform="translate(401 316.7) rotate(7.33) translate(-2.37 -4.18)" d="M2.84 0.73 C2.06 -0.55 0 0.46 0.11 2.55 C0 4.64 2.06 5.31 4.33 3.54 M4.36 0 L4.4 6.49 Q4.54 8.22 3.09 8.14" stroke="#000" stroke-width="0.8"/>
<path transform="translate(440.2 315.4) rotate(3.45) translate(-2.38 -4.33)" d="M2.86 0.79 C2.07 -0.63 0 0.48 0.1 2.64 C0 4.81 2.07 5.33 4.35 3.97 M4.37 0 L4.66 6.73 Q4.56 8.25 3.39 9" stroke="#000" stroke-width="0.8"/>
<path transform="translate(417.5 318.8) rotate(7.29) translate(-2.53 -3.82)" d="M3.18 0.73 C2.2 -0.5 0 0.42 0.15 2.33 C0 4.24 2.2 4.69 4.61 3.22 M4.78 0 L4.87 5.94 Q4.83 7.01 3.31 7.59" stroke="#000" stroke-width="0.8"/>
<path transform="translate(425.1 325) rotate(3.58) translate(-2.54 -3.91)" d="M3.19 0.78 C2.21 -0.24 0 0.43 -0.05 2.39 C0 4.34 2.21 5 4.63 3.25 M5.02 0 L5.02 6.08 Q4.86 7.6 3.32 7.84" stroke="#000" stroke-width="0.8"/>
<path transform="translate(391.3 328.5) rotate(8.38) translate(-2.55 -3.82)" d="M2.85 0.65 C2.22 -0.47 0 0.42 0.14 2.34 C0 4.25 2.22 4.52 4.65 3.19 M4.96 0 L4.77 5.95 Q4.88 7.03 3.41 7.71" stroke="#000" stroke-width="0.8"/>
<path transform="translate(401.7 329.1) rotate(-8.05) translate(-2.54 -4.4)" d="M3.12 0.71 C2.21 -0.61 0 0.49 0 2.69 C0 4.89 2.21 5.48 4.64 3.78 M4.7 0 L4.83 6.85 Q4.86 8.2 3.4 9.16" stroke="#000" stroke-width="0.8"/>
<path transform="translate(417.5 334.7) rotate(4.18) translate(-2.35 -4.29)" d="M2.94 1.2 C2.04 -0.45 0 0.48 -0.03 2.62 C0 4.77 2.04 5.54 4.29 3.83 M4.46 0 L4.64 6.68 Q4.5 8.61 2.94 8.34" stroke="#000" stroke-width="0.8"/>
<path transform="translate(409.3 335.3) rotate(8.64) translate(-2.45 -4.18)" d="M3.1 1.1 C2.13 -0.18 0 0.46 -0.19 2.55 C0 4.64 2.13 5.21 4.47 3.97 M4.87 0 L4.6 6.5 Q4.68 8.05 3.3 8.23" stroke="#000" stroke-width="0.8"/>
<path transform="translate(381.7 340.9) rotate(-1.77) translate(-2.55 -3.87)" d="M2.76 0.67 C2.21 -0.1 0 0.43 0.12 2.36 C0 4.3 2.21 5.04 4.65 3.5 M5.01 0 L5.01 6.01 Q4.87 7.85 2.91 7.85" stroke="#000" stroke-width="0.8"/>
<path transform="translate(405.8 345) rotate(-4.8) translate(-2.41 -4.38)" d="M3.07 1.04 C2.1 -0.54 0 0.49 0.01 2.68 C0 4.87 2.1 5.41 4.4 4.16 M4.52 0 L4.55 6.81 Q4.61 8.66 2.83 8.85" stroke="#000" stroke-width="0.8"/>
<path transform="translate(426.5 348.4) rotate(-4.9) translate(-3.31 -5.09)" d="M3.94 0.89 C2.88 -0.71 0 0.57 -0.21 3.11 C0 5.66 2.88 6.19 6.05 4.46 M6.22 0 L6.22 7.92 Q6.34 9.43 4.37 10.56" stroke="#000" stroke-width="0.8"/>
<path transform="translate(415.5 353.9) rotate(2.36) translate(-2.59 -4.29)" d="M3.17 0.93 C2.25 -0.35 0 0.48 0.05 2.62 C0 4.77 2.25 5.32 4.72 3.7 M4.83 0 L4.85 6.67 Q4.95 8.35 3.27 8.66" stroke="#000" stroke-width="0.8"/>
<path transform="translate(405.1 362.5) rotate(6.38) translate(-2.28 -4.11)" d="M2.73 0.91 C1.99 -0.48 0 0.46 0.19 2.51 C0 4.56 1.99 5 4.17 3.8 M4.23 0 L4.23 6.39 Q4.37 8.32 2.93 7.81" stroke="#000" stroke-width="0.8"/>
<path transform="translate(383.1 317.4) rotate(3.97) translate(-1.99 -4.18)" d="M0.48 0 L0.7 3.25 Q0.45 4.75 1.81 4.48 L3.25 4.57 Q4.52 4.64 4.52 2.88 M-1.1 0.1 L4.74 0.04 M4.67 0 L4.63 6.5 Q4.52 8.14 3.15 8.58" stroke="#000" stroke-width="0.8"/>
<path transform="translate(354.8 319.4) rotate(4.91) translate(-1.71 -3.37)" d="M0.74 0 L0.21 2.62 Q0.39 3.88 1.56 3.56 L2.8 3.84 Q3.89 3.74 3.89 2.32 M-0.8 0 L4.08 0.14 M3.92 0 L3.86 5.24 Q3.89 6.76 2.82 6.81" stroke="#000" stroke-width="0.8"/>
<path transform="translate(370.6 320.1) rotate(-1.3) translate(-1.59 -3.35)" d="M0.42 0 L0.31 2.61 Q0.36 3.74 1.44 3.68 L2.6 3.66 Q3.61 3.72 3.61 2.31 M-0.63 0.16 L3.79 0 M3.59 0 L3.52 5.21 Q3.61 6.37 2.09 6.76" stroke="#000" stroke-width="0.8"/>
<path transform="translate(311.7 269.6) rotate(7.48) translate(-2.07 -3.88)" d="M0.85 0 L0.66 3.02 Q0.47 4.51 1.88 4.19 L3.38 4.28 Q4.7 4.31 4.7 2.67 M-0.72 -0.25 L4.93 -0.16 M4.73 0 L4.69 6.04 Q4.7 7.91 3.31 7.8" stroke="#000" stroke-width="0.8"/>
<path transform="translate(308 292.5) rotate(-0.17) translate(-2.24 -4.24)" d="M0.64 0 L0.42 3.3 Q0.51 4.76 2.03 4.65 L3.66 4.93 Q5.08 4.72 5.08 2.92 M-0.97 0.01 L5.33 -0.15 M5.02 0 L5.04 6.6 Q5.08 8.31 3.38 8.85" stroke="#000" stroke-width="0.8"/>
<path transform="translate(341.1 319.4) rotate(-1.64) translate(-2.22 -4.22)" d="M1.01 0 L0.41 3.28 Q0.5 4.7 2.02 4.84 L3.64 4.53 Q5.05 4.69 5.05 2.91 M-1.26 0.27 L5.3 0.12 M5.06 0 L4.89 6.56 Q5.05 8.57 3.47 8.74" stroke="#000" stroke-width="0.8"/>
<path transform="translate(336.3 332.5) rotate(-2) translate(-2.23 -4.56)" d="M0.58 0 L0.51 3.55 Q0.51 5.07 2.03 4.91 L3.65 4.9 Q5.07 5.06 5.07 3.14 M-1.01 0.06 L5.33 -0.06 M5.32 0 L5.13 7.09 Q5.07 8.4 3.21 9.41" stroke="#000" stroke-width="0.8"/>
<path transform="translate(298.4 334.6) rotate(-9.93) translate(-1.95 -4.39)" d="M0.8 0 L0.49 3.42 Q0.44 4.96 1.78 4.73 L3.2 4.88 Q4.44 4.88 4.44 3.03 M-0.94 -0.14 L4.66 0.06 M4.46 0 L4.62 6.83 Q4.44 8.61 2.81 8.41" stroke="#000" stroke-width="0.8"/>
<path transform="translate(310.8 331.8) rotate(-7.97) translate(-1.89 -4.45)" d="M0.43 0 L0.44 3.46 Q0.43 5.1 1.72 5 L3.1 5.1 Q4.3 4.94 4.3 3.07 M-1.25 -0.29 L4.52 0.11 M4.23 0 L4.38 6.92 Q4.3 8.51 2.51 8.67" stroke="#000" stroke-width="0.8"/>
<path transform="translate(310.7 353.6) rotate(1.06) translate(-1.87 -4.57)" d="M0.57 0 L0.37 3.56 Q0.42 4.85 1.7 5.28 L3.06 5.12 Q4.25 5.08 4.25 3.15 M-0.62 -0.04 L4.46 0.05 M4.14 0 L4.09 7.11 Q4.25 9.33 3.06 8.96" stroke="#000" stroke-width="0.8"/>
<path transform="translate(321 353.6) rotate(-4.23) translate(-2.19 -4.5)" d="M0.97 0 L0.5 3.5 Q0.5 5.22 2 4.87 L3.59 4.94 Q4.99 5 4.99 3.1 M-0.92 -0.17 L5.24 -0.08 M5.18 0 L4.98 7 Q4.99 9.04 2.99 8.67" stroke="#000" stroke-width="0.8"/>
<path transform="translate(330 357.7) rotate(8.46) translate(-1.98 -3.96)" d="M0.66 0 L0.24 3.08 Q0.45 4.42 1.8 4.35 L3.23 4.36 Q4.49 4.41 4.49 2.73 M-1.3 -0.2 L4.71 0.11 M4.42 0 L4.4 6.17 Q4.49 7.44 2.72 7.7" stroke="#000" stroke-width="0.8"/>
<path transform="translate(307.2 366.7) rotate(-3.51) translate(-1.84 -4.37)" d="M0.69 0 L0.21 3.4 Q0.42 4.74 1.68 5.02 L3.02 4.67 Q4.19 4.85 4.19 3.01 M-0.96 0.2 L4.4 0.12 M4.05 0 L4.14 6.8 Q4.19 8.71 2.62 9.18" stroke="#000" stroke-width="0.8"/>
<path transform="translate(324.4 368.7) rotate(-0.41) translate(-1.91 -4.61)" d="M0.58 0 L0.24 3.59 Q0.44 5.23 1.74 5 L3.13 5.33 Q4.35 5.12 4.35 3.18 M-0.9 -0.08 L4.57 -0.1 M4.4 0 L4.25 7.17 Q4.35 9.35 2.5 9.24" stroke="#000" stroke-width="0.8"/>
<path transform="translate(333.4 372.2) rotate(4.66) translate(-2.05 -4.04)" d="M0.74 0 L0.5 3.14 Q0.47 4.4 1.86 4.43 L3.35 4.3 Q4.66 4.48 4.66 2.78 M-1.27 0.19 L4.89 -0.06 M4.74 0 L4.51 6.28 Q4.66 7.9 2.9 8.07" stroke="#000" stroke-width="0.8"/>
<path transform="translate(319.6 377.7) rotate(-4.09) translate(-1.95 -3.86)" d="M0.42 0 L0.56 3 Q0.44 4.2 1.77 4.25 L3.19 4.47 Q4.43 4.29 4.43 2.66 M-0.78 0.2 L4.65 0.12 M4.27 0 L4.35 6.01 Q4.43 7.11 3.04 7.87" stroke="#000" stroke-width="0.8"/>
<path transform="translate(309.3 382.5) rotate(2.52) translate(-1.97 -4.16)" d="M0.49 0 L0.63 3.23 Q0.45 4.55 1.79 4.68 L3.23 4.47 Q4.48 4.62 4.48 2.86 M-1.26 0.23 L4.71 0.09 M4.58 0 L4.32 6.46 Q4.48 7.66 2.61 8.03" stroke="#000" stroke-width="0.8"/>
<path transform="translate(327.9 386) rotate(-9.25) translate(-1.95 -4.13)" d="M0.69 0 L0.27 3.21 Q0.44 4.74 1.78 4.62 L3.2 4.69 Q4.44 4.59 4.44 2.84 M-1.15 -0.04 L4.66 0.07 M4.37 0 L4.26 6.42 Q4.44 8.34 3.13 8.06" stroke="#000" stroke-width="0.8"/>
<path transform="translate(338.9 387.3) rotate(1.54) translate(-1.85 -4.53)" d="M0.46 0 L0.22 3.52 Q0.42 5.18 1.68 4.89 L3.02 5.24 Q4.2 5.03 4.2 3.12 M-0.76 -0.25 L4.41 0.08 M4.15 0 L4.28 7.05 Q4.2 9.14 2.54 8.65" stroke="#000" stroke-width="0.8"/>
<path transform="translate(317.5 393.5) rotate(7.67) translate(-2.21 -4.17)" d="M0.85 0 L0.7 3.24 Q0.5 4.69 2.01 4.61 L3.62 4.42 Q5.03 4.63 5.03 2.87 M-0.95 -0.04 L5.28 0 M5.25 0 L4.88 6.48 Q5.03 8.34 2.81 8.52" stroke="#000" stroke-width="0.8"/>
<path transform="translate(325.1 401.8) rotate(0.38) translate(-2.16 -4.03)" d="M0.77 0 L0.52 3.13 Q0.49 4.36 1.96 4.28 L3.53 4.41 Q4.9 4.48 4.9 2.77 M-1.15 -0.16 L5.15 -0.07 M4.72 0 L4.98 6.27 Q4.9 7.98 2.93 7.82" stroke="#000" stroke-width="0.8"/>
<path transform="translate(308.6 407.3) rotate(7.78) translate(-2.04 -4.18)" d="M0.54 0 L0.68 3.25 Q0.46 4.48 1.85 4.68 L3.34 4.57 Q4.63 4.65 4.63 2.88 M-0.79 0.03 L4.87 0.1 M4.48 0 L4.7 6.51 Q4.63 8.23 2.98 8.61" stroke="#000" stroke-width="0.8"/>
<path transform="translate(295.5 388) rotate(-4.5) translate(-3.88 -3.51)" d="M0.43 0 L0.19 2.73 Q0.41 3.82 1.65 3.79 L2.97 3.98 Q4.13 3.9 4.13 2.42 M4.13 0 L4.13 1.56 M4.68 0 L4.35 2.73 Q4.54 3.84 5.78 3.89 L7.1 3.85 Q8.25 3.9 8.25 2.42 M-1.13 -0.2 L8.46 -0.15 M8.46 0 L8.34 5.47 Q8.25 6.51 6.99 7.4" stroke="#000" stroke-width="0.8"/>
<path transform="translate(294.1 408) rotate(-0.71) translate(-3.68 -3.51)" d="M0.4 0 L0.41 2.73 Q0.39 3.71 1.57 4.06 L2.82 3.96 Q3.92 3.9 3.92 2.42 M3.92 0 L3.92 1.56 M4.53 0 L4.52 2.73 Q4.31 3.96 5.49 3.8 L6.74 3.8 Q7.84 3.9 7.84 2.42 M-1.09 -0.22 L8.03 0.09 M7.97 0 L7.77 5.46 Q7.84 6.58 6.58 7.29" stroke="#000" stroke-width="0.8"/>
<path transform="translate(243.7 320.1) rotate(4.91) translate(-3.95 -3.55)" d="M0.71 0 L0.33 2.76 Q0.42 3.82 1.68 4.08 L3.02 3.88 Q4.2 3.95 4.2 2.45 M4.2 0 L4.2 1.58 M4.72 0 L4.65 2.76 Q4.62 3.9 5.88 4.08 L7.22 3.85 Q8.4 3.95 8.4 2.45 M-1.23 0.03 L8.61 0.04 M8.53 0 L8.47 5.53 Q8.4 7.23 7.3 7.1" stroke="#000" stroke-width="0.8"/>
<path transform="translate(254 320.8) rotate(-4.31) translate(-3.64 -3.55)" d="M0.35 0 L0.47 2.76 Q0.39 3.81 1.55 3.92 L2.79 4.13 Q3.87 3.94 3.87 2.44 M3.87 0 L3.87 1.58 M4.22 0 L4.04 2.76 Q4.26 3.92 5.42 3.82 L6.66 4.03 Q7.74 3.94 7.74 2.44 M-1.16 0.16 L7.93 0.11 M7.85 0 L7.72 5.52 Q7.74 6.72 6.51 7.1" stroke="#000" stroke-width="0.8"/>
<path transform="translate(223 337.3) rotate(-1.66) translate(-3.58 -3.68)" d="M0.68 0 L0.57 2.87 Q0.38 3.96 1.52 4.01 L2.74 4.07 Q3.81 4.09 3.81 2.54 M3.81 0 L3.81 1.64 M4.37 0 L4.12 2.87 Q4.19 3.97 5.33 3.92 L6.55 4.02 Q7.62 4.09 7.62 2.54 M-0.86 0.23 L7.81 0.13 M7.76 0 L7.76 5.73 Q7.62 7.54 6.38 7.62" stroke="#000" stroke-width="0.8"/>
<path transform="translate(262.5 358.4) rotate(1.57) translate(-3.32 -3.94)" d="M0.52 0 L0.54 3.07 Q0.35 4.37 1.41 4.44 L2.54 4.29 Q3.53 4.38 3.53 2.72 M3.53 0 L3.53 1.75 M3.96 0 L4.05 3.07 Q3.88 4.17 4.94 4.24 L6.07 4.46 Q7.06 4.38 7.06 2.72 M-0.81 -0.22 L7.24 0.06 M7.01 0 L7.08 6.13 Q7.06 7.59 5.84 7.94" stroke="#000" stroke-width="0.8"/>
<path transform="translate(248.7 363.9) rotate(-6.57) translate(-3.56 -3.51)" d="M0.55 0 L0.2 2.73 Q0.38 4.05 1.52 3.81 L2.73 3.75 Q3.79 3.9 3.79 2.42 M3.79 0 L3.79 1.56 M4.33 0 L4.06 2.73 Q4.17 3.9 5.31 3.92 L6.52 3.8 Q7.58 3.9 7.58 2.42 M-0.79 -0.18 L7.77 0 M7.61 0 L7.45 5.47 Q7.58 6.76 5.93 6.98" stroke="#000" stroke-width="0.8"/>
<path transform="translate(279.7 361.9) rotate(3.58) translate(-3.9 -3.85)" d="M0.39 0 L0.66 2.99 Q0.42 4.37 1.66 4.1 L2.99 4.41 Q4.15 4.27 4.15 2.65 M4.15 0 L4.15 1.71 M4.68 0 L4.4 2.99 Q4.57 4.47 5.81 4.3 L7.14 4.39 Q8.3 4.27 8.3 2.65 M-1.15 0.14 L8.51 -0.15 M8.19 0 L8.26 5.98 Q8.3 7.06 6.93 7.45" stroke="#000" stroke-width="0.8"/>
<path transform="translate(289.4 366) rotate(-1.91) translate(-3.49 -3.96)" d="M0.57 0 L0.54 3.08 Q0.37 4.43 1.49 4.59 L2.67 4.57 Q3.72 4.41 3.72 2.73 M3.72 0 L3.72 1.76 M4.09 0 L4.2 3.08 Q4.09 4.34 5.2 4.52 L6.39 4.49 Q7.43 4.41 7.43 2.73 M-0.62 -0.2 L7.62 -0.04 M7.52 0 L7.56 6.17 Q7.43 7.91 5.79 8.02" stroke="#000" stroke-width="0.8"/>
<path transform="translate(238.4 372.9) rotate(5.26) translate(-3.35 -3.84)" d="M0.68 0 L0.43 2.99 Q0.36 4.17 1.42 4.14 L2.56 4.25 Q3.56 4.27 3.56 2.65 M3.56 0 L3.56 1.71 M4.2 0 L3.95 2.99 Q3.92 4.11 4.98 4.07 L6.12 4.1 Q7.12 4.27 7.12 2.65 M-0.61 -0.16 L7.3 0.02 M7.05 0 L7.17 5.98 Q7.12 7.37 5.62 8.01" stroke="#000" stroke-width="0.8"/>
<path transform="translate(261.1 370.8) rotate(5.36) translate(-3.67 -3.95)" d="M0.32 0 L0.32 3.07 Q0.39 4.24 1.56 4.39 L2.81 4.55 Q3.9 4.39 3.9 2.72 M3.9 0 L3.9 1.76 M4.59 0 L4.07 3.07 Q4.29 4.25 5.46 4.53 L6.71 4.47 Q7.8 4.39 7.8 2.72 M-0.92 -0.01 L7.99 -0.12 M7.93 0 L7.77 6.15 Q7.8 8.01 6.52 7.53" stroke="#000" stroke-width="0.8"/>
<path transform="translate(276.3 375.6) rotate(6.99) translate(-3.51 -3.59)" d="M0.32 0 L0.23 2.79 Q0.37 3.93 1.5 3.98 L2.69 4.02 Q3.74 3.99 3.74 2.47 M3.74 0 L3.74 1.6 M4.21 0 L4.05 2.79 Q4.11 3.79 5.23 4.02 L6.43 3.92 Q7.48 3.99 7.48 2.47 M-1.11 -0.02 L7.66 0.16 M7.31 0 L7.37 5.59 Q7.48 7.12 6 7" stroke="#000" stroke-width="0.8"/>
<path transform="translate(285.9 381.1) rotate(0.81) translate(-3.64 -3.63)" d="M0.75 0 L0.62 2.82 Q0.39 3.84 1.55 4.05 L2.79 4.14 Q3.87 4.03 3.87 2.5 M3.87 0 L3.87 1.61 M4.58 0 L4.38 2.82 Q4.26 4.08 5.42 4.08 L6.66 3.97 Q7.74 4.03 7.74 2.5 M-0.99 0.14 L7.93 0.12 M7.91 0 L7.8 5.64 Q7.74 6.89 6.59 7.44" stroke="#000" stroke-width="0.8"/>
<path transform="translate(271.5 386) rotate(-3.34) translate(-3.64 -3.91)" d="M0.5 0 L0.18 3.04 Q0.39 4.27 1.55 4.27 L2.79 4.56 Q3.88 4.34 3.88 2.69 M3.88 0 L3.88 1.74 M4.41 0 L4.2 3.04 Q4.26 4.23 5.43 4.23 L6.67 4.28 Q7.75 4.34 7.75 2.69 M-1.08 -0.26 L7.95 0.13 M7.74 0 L7.74 6.08 Q7.75 7.66 6.24 7.53" stroke="#000" stroke-width="0.8"/>
<path transform="translate(249.4 390.8) rotate(-4.14) translate(-3.32 -3.66)" d="M0.52 0 L0.54 2.84 Q0.35 4 1.41 4.23 L2.54 4.1 Q3.53 4.06 3.53 2.52 M3.53 0 L3.53 1.62 M3.85 0 L3.75 2.84 Q3.89 4.09 4.95 4.26 L6.08 4 Q7.07 4.06 7.07 2.52 M-0.62 -0.03 L7.25 0.12 M6.92 0 L7.06 5.69 Q7.07 7.43 5.67 7.11" stroke="#000" stroke-width="0.8"/>
<path transform="translate(280.4 394.2) rotate(-4.91) translate(-3.29 -3.55)" d="M0.37 0 L0.31 2.76 Q0.35 3.83 1.4 3.99 L2.52 4.09 Q3.5 3.95 3.5 2.45 M3.5 0 L3.5 1.58 M4.05 0 L3.72 2.76 Q3.85 4.04 4.9 4.13 L6.02 3.99 Q7 3.95 7 2.45 M-1.01 0.15 L7.18 0.12 M6.95 0 L6.9 5.52 Q7 6.66 5.8 7.4" stroke="#000" stroke-width="0.8"/>
<path transform="translate(259.1 401.8) rotate(-5.97) translate(-3.74 -4.13)" d="M0.68 0 L0.47 3.21 Q0.4 4.54 1.59 4.67 L2.86 4.51 Q3.98 4.59 3.98 2.84 M3.98 0 L3.98 1.84 M4.32 0 L4.34 3.21 Q4.38 4.38 5.57 4.65 L6.84 4.51 Q7.96 4.59 7.96 2.84 M-0.88 0.05 L8.16 -0.09 M7.94 0 L7.8 6.42 Q7.96 8.42 6.62 8.71" stroke="#000" stroke-width="0.8"/>
<path transform="translate(278.4 406.6) rotate(3.76) translate(-3.31 -3.89)" d="M0.32 0 L0.21 3.03 Q0.35 4.17 1.41 4.44 L2.54 4.15 Q3.53 4.33 3.53 2.68 M3.53 0 L3.53 1.73 M4.15 0 L3.85 3.03 Q3.88 4.34 4.94 4.36 L6.07 4.35 Q7.05 4.33 7.05 2.68 M-0.69 0.05 L7.23 -0.06 M7.14 0 L6.98 6.06 Q7.05 7.75 6 8.03" stroke="#000" stroke-width="0.8"/>
<path transform="translate(241 247.7) rotate(8.57) translate(-3.62 -2.42)" d="M0.44 0 L0.4 3.23 Q0.38 4.81 1.54 4.44 L2.77 4.38 Q3.85 4.61 3.85 2.86 M3.85 0 L3.85 1.84 M4.37 0 L4.3 3.23 Q4.23 4.74 5.39 4.55 L6.62 4.83 Q7.69 4.61 7.69 2.86 M-1.01 0.14 L7.89 -0.15 M7.51 0 L7.55 4.79" stroke="#000" stroke-width="0.8"/>
<path transform="translate(202.4 251.1) rotate(0.55) translate(-3.43 -2.3)" d="M0.7 0 L0.31 3.06 Q0.36 4.22 1.46 4.23 L2.63 4.48 Q3.65 4.37 3.65 2.71 M3.65 0 L3.65 1.75 M4.34 0 L3.86 3.06 Q4.01 4.17 5.11 4.49 L6.27 4.26 Q7.29 4.37 7.29 2.71 M-0.52 0 L7.48 0.05 M7.24 0 L7.4 4.55" stroke="#000" stroke-width="0.8"/>
<path transform="translate(226.5 251.8) rotate(7.17) translate(-3.73 -2.21)" d="M0.67 0 L0.19 2.95 Q0.4 4.28 1.59 4.18 L2.86 4.37 Q3.97 4.22 3.97 2.61 M3.97 0 L3.97 1.69 M4.31 0 L4.39 2.95 Q4.36 4.18 5.55 4.39 L6.82 4.4 Q7.93 4.22 7.93 2.61 M-0.79 -0.14 L8.13 -0.08 M7.84 0 L7.91 4.39" stroke="#000" stroke-width="0.8"/>
<path transform="translate(216.9 258) rotate(4.42) translate(-3.56 -2.16)" d="M0.44 0 L0.6 2.88 Q0.38 4 1.51 4.14 L2.72 3.97 Q3.78 4.11 3.78 2.55 M3.78 0 L3.78 1.64 M4.48 0 L4.33 2.88 Q4.16 4.02 5.3 4.21 L6.51 4.24 Q7.57 4.11 7.57 2.55 M-0.96 -0.08 L7.76 0 M7.72 0 L7.44 4.28" stroke="#000" stroke-width="0.8"/>
<path transform="translate(224.4 264.2) rotate(-1.39) translate(-3.9 -2.34)" d="M0.77 0 L0.27 3.12 Q0.41 4.63 1.66 4.39 L2.98 4.58 Q4.15 4.46 4.15 2.76 M4.15 0 L4.15 1.78 M4.91 0 L4.4 3.12 Q4.56 4.62 5.8 4.68 L7.13 4.37 Q8.29 4.46 8.29 2.76 M-1.23 -0.21 L8.5 0.17 M8.09 0 L8.46 4.63" stroke="#000" stroke-width="0.8"/>
<path transform="translate(234.1 268.4) rotate(-8.15) translate(-3.5 -2.4)" d="M0.6 0 L0.19 3.2 Q0.37 4.5 1.49 4.77 L2.68 4.68 Q3.72 4.58 3.72 2.84 M3.72 0 L3.72 1.83 M4.41 0 L4.31 3.2 Q4.09 4.36 5.21 4.46 L6.4 4.71 Q7.44 4.58 7.44 2.84 M-0.71 -0.25 L7.63 0 M7.34 0 L7.41 4.76" stroke="#000" stroke-width="0.8"/>
<path transform="translate(243.7 264.9) rotate(8.82) translate(-2.6 -1.56)" d="M0.51 0 L0.15 2.07 Q0.28 2.96 1.1 2.86 L1.99 2.94 Q2.76 2.96 2.76 1.84 M2.76 0 L2.76 1.19 M3.04 0 L3.1 2.07 Q3.04 2.86 3.87 3.03 L4.75 2.96 Q5.52 2.96 5.52 1.84 M-0.78 -0.05 L5.66 0 M5.64 0 L5.48 3.08" stroke="#000" stroke-width="0.8"/>
<path transform="translate(205.8 275.9) rotate(6.78) translate(-3.54 -2.51)" d="M0.43 0 L0.23 3.35 Q0.38 4.67 1.51 4.57 L2.72 4.56 Q3.77 4.78 3.77 2.96 M3.77 0 L3.77 1.91 M4.3 0 L4.11 3.35 Q4.15 4.81 5.28 4.71 L6.49 4.55 Q7.54 4.78 7.54 2.96 M-0.72 0.09 L7.73 0.02 M7.56 0 L7.61 4.97" stroke="#000" stroke-width="0.8"/>
<path transform="translate(215.5 275.2) rotate(3.64) translate(-4.12 -2.47)" d="M0.52 0 L0.4 3.29 Q0.44 4.92 1.75 4.64 L3.16 4.64 Q4.38 4.7 4.38 2.91 M4.38 0 L4.38 1.88 M4.95 0 L4.64 3.29 Q4.82 4.93 6.14 4.47 L7.54 4.75 Q8.77 4.7 8.77 2.91 M-0.67 -0.14 L8.99 0.04 M8.72 0 L8.66 4.89" stroke="#000" stroke-width="0.8"/>
<path transform="translate(198.9 285.7) rotate(6.02) translate(-3.53 -2.12)" d="M0.71 0 L0.17 2.82 Q0.38 4.11 1.5 3.96 L2.71 4.09 Q3.76 4.04 3.76 2.5 M3.76 0 L3.76 1.61 M4.31 0 L4.05 2.82 Q4.13 4.23 5.26 3.83 L6.46 4.13 Q7.52 4.04 7.52 2.5 M-0.61 0 L7.7 0.03 M7.7 0 L7.42 4.2" stroke="#000" stroke-width="0.8"/>
<path transform="translate(211.3 289.1) rotate(-2.8) translate(-3.86 -2.41)" d="M0.52 0 L0.42 3.21 Q0.41 4.64 1.64 4.66 L2.95 4.5 Q4.1 4.58 4.1 2.84 M4.1 0 L4.1 1.83 M4.74 0 L4.53 3.21 Q4.51 4.46 5.74 4.64 L7.06 4.48 Q8.21 4.58 8.21 2.84 M-0.63 -0.01 L8.41 0.08 M8.21 0 L8.2 4.77" stroke="#000" stroke-width="0.8"/>
<path transform="translate(221 291.2) rotate(7.62) translate(-3.55 -2.13)" d="M0.54 0 L0.39 2.84 Q0.38 4.19 1.51 3.95 L2.72 3.93 Q3.78 4.06 3.78 2.52 M3.78 0 L3.78 1.62 M4.45 0 L4.14 2.84 Q4.15 4.12 5.29 4.19 L6.49 4.22 Q7.55 4.06 7.55 2.52 M-0.61 -0.22 L7.74 -0.04 M7.68 0 L7.67 4.22" stroke="#000" stroke-width="0.8"/>
<path transform="translate(230.6 284.3) rotate(-5.22) translate(-3.48 -2.14)" d="M0.45 0 L0.5 2.85 Q0.37 4.08 1.48 4.05 L2.66 3.9 Q3.7 4.07 3.7 2.52 M3.7 0 L3.7 1.63 M4.17 0 L4.29 2.85 Q4.07 4.15 5.18 4.05 L6.36 4.06 Q7.4 4.07 7.4 2.52 M-0.64 0.13 L7.58 -0.11 M7.46 0 L7.35 4.23" stroke="#000" stroke-width="0.8"/>
<path transform="translate(254.7 284.3) rotate(-2.96) translate(-2.83 -1.63)" d="M0.38 0 L0.13 2.17 Q0.3 3.01 1.2 3.13 L2.17 2.97 Q3.01 3.11 3.01 1.93 M3.01 0 L3.01 1.24 M3.32 0 L3.39 2.17 Q3.31 3.04 4.22 3.05 L5.18 3.03 Q6.02 3.11 6.02 1.93 M-0.5 -0.15 L6.17 0.03 M6.13 0 L5.93 3.23" stroke="#000" stroke-width="0.8"/>
<path transform="translate(230.6 294.6) rotate(1.74) translate(-3.7 -2.43)" d="M0.34 0 L0.37 3.24 Q0.39 4.57 1.58 4.72 L2.84 4.53 Q3.94 4.63 3.94 2.87 M3.94 0 L3.94 1.85 M4.45 0 L4.4 3.24 Q4.33 4.77 5.51 4.56 L6.77 4.57 Q7.88 4.63 7.88 2.87 M-0.82 0.24 L8.07 -0.11 M8.06 0 L7.96 4.81" stroke="#000" stroke-width="0.8"/>
<path transform="translate(241.6 297.4) rotate(-3.74) translate(-2.75 -1.78)" d="M0.5 0 L0.25 2.37 Q0.29 3.4 1.17 3.39 L2.1 3.52 Q2.92 3.39 2.92 2.1 M2.92 0 L2.92 1.35 M3.42 0 L3.05 2.37 Q3.21 3.42 4.09 3.37 L5.03 3.37 Q5.85 3.39 5.85 2.1 M-0.48 -0.03 L5.99 -0.01 M5.96 0 L5.83 3.52" stroke="#000" stroke-width="0.8"/>
<path transform="translate(223.7 302.9) rotate(5.67) translate(-3.75 -2.3)" d="M0.67 0 L0.35 3.07 Q0.4 4.18 1.6 4.46 L2.87 4.4 Q3.99 4.38 3.99 2.72 M3.99 0 L3.99 1.75 M4.68 0 L4.52 3.07 Q4.39 4.21 5.59 4.26 L6.87 4.2 Q7.98 4.38 7.98 2.72 M-0.68 -0.21 L8.18 -0.14 M8.09 0 L8.01 4.56" stroke="#000" stroke-width="0.8"/>
<path transform="translate(214.1 310.5) rotate(3.51) translate(-3.42 -2.38)" d="M0.32 0 L0.45 3.17 Q0.36 4.49 1.46 4.57 L2.62 4.75 Q3.64 4.53 3.64 2.81 M3.64 0 L3.64 1.81 M4.29 0 L4.17 3.17 Q4.01 4.37 5.1 4.45 L6.27 4.54 Q7.29 4.53 7.29 2.81 M-1.09 0.27 L7.47 -0.08 M7.2 0 L7.22 4.71" stroke="#000" stroke-width="0.8"/>
<path transform="translate(232 312.5) rotate(0.56) translate(-3.57 -2.46)" d="M0.5 0 L0.18 3.28 Q0.38 4.59 1.52 4.86 L2.74 4.83 Q3.8 4.68 3.8 2.9 M3.8 0 L3.8 1.87 M4.5 0 L4.07 3.28 Q4.18 4.55 5.32 4.47 L6.54 4.7 Q7.61 4.68 7.61 2.9 M-0.91 -0.02 L7.8 0 M7.64 0 L7.56 4.87" stroke="#000" stroke-width="0.8"/>
<path transform="translate(241.9 341.2) rotate(7.47) translate(-2.99 -1.62)" d="M0.27 0 L0.25 2.16 Q0.32 3.09 1.27 3.05 L2.29 3.1 Q3.18 3.08 3.18 1.91 M3.18 0 L3.18 1.23 M3.56 0 L3.41 2.16 Q3.5 3.17 4.45 3.02 L5.47 3.15 Q6.36 3.08 6.36 1.91 M-0.55 0.03 L6.52 -0.01 M6.5 0 L6.34 3.2" stroke="#000" stroke-width="0.8"/>
<path transform="translate(371 239.4) rotate(-1.76) translate(-2.86 -2.47)" d="M0.56 0 L0.93 3.3 Q0.65 4.51 2.6 4.76 L4.69 4.56 Q6.51 4.71 6.51 2.92 M-0.99 0.03 L6.83 0.11 M6.51 0 L6.62 4.9" stroke="#000" stroke-width="0.8"/>
<path transform="translate(309.6 241.3) rotate(-5.99) translate(-2.5 -2.37)" d="M0.55 0 L0.85 3.16 Q0.57 4.38 2.28 4.33 L4.1 4.32 Q5.69 4.51 5.69 2.79 M-0.99 0.24 L5.98 -0.03 M5.78 0 L5.55 4.69" stroke="#000" stroke-width="0.8"/>
<path transform="translate(291.7 260.6) rotate(-7.06) translate(-2.62 -2.56)" d="M0.97 0 L0.27 3.41 Q0.59 5.04 2.38 4.77 L4.28 4.74 Q5.95 4.87 5.95 3.02 M-1.23 -0.11 L6.24 0.02 M5.74 0 L6.19 5.07" stroke="#000" stroke-width="0.8"/>
<path transform="translate(324.8 264.7) rotate(-7.11) translate(-2.92 -3.29)" d="M1.31 0 L0.58 4.39 Q0.66 5.98 2.65 6.2 L4.78 6.36 Q6.63 6.28 6.63 3.89 M-1.75 0.03 L6.97 -0.2 M6.61 0 L6.78 6.53" stroke="#000" stroke-width="0.8"/>
<path transform="translate(272.6 276.6) rotate(-7.83) translate(-2.39 -2.56)" d="M0.51 0 L0.82 3.41 Q0.54 5.11 2.17 5.08 L3.9 4.88 Q5.42 4.87 5.42 3.02 M-1.37 -0.09 L5.69 0.1 M5.42 0 L5.66 5.06" stroke="#000" stroke-width="0.8"/>
<path transform="translate(258.8 305) rotate(6.42) translate(-2.22 -2.46)" d="M0.73 0 L0.26 3.28 Q0.51 4.52 2.02 4.58 L3.64 4.87 Q5.05 4.69 5.05 2.91 M-0.83 -0.15 L5.3 0.16 M4.82 0 L5.1 4.87" stroke="#000" stroke-width="0.8"/>
<path transform="translate(259.5 333.2) rotate(7.94) translate(-2.65 -2.39)" d="M0.52 0 L0.48 3.19 Q0.6 4.53 2.41 4.44 L4.33 4.66 Q6.01 4.55 6.01 2.82 M-1.63 0.16 L6.31 -0.07 M5.76 0 L6.05 4.74" stroke="#000" stroke-width="0.8"/>
<path transform="translate(268.1 281.5) rotate(4.97) translate(-2.22 -2.49)" d="M0.68 0 L0.22 3.32 Q0.51 4.75 2.02 4.56 L3.64 4.82 Q5.06 4.75 5.06 2.94 M-1.41 0.04 L5.31 -0.06 M4.99 0 L5.14 4.94" stroke="#000" stroke-width="0.8"/>
<path transform="translate(288.1 282.9) rotate(7.89) translate(-2.26 -2.3)" d="M0.93 0 L0.74 3.07 Q0.51 4.38 2.05 4.24 L3.69 4.21 Q5.13 4.39 5.13 2.72 M-0.82 -0.2 L5.39 0 M5.15 0 L4.93 4.57" stroke="#000" stroke-width="0.8"/>
<path transform="translate(304.6 278.1) rotate(0.17) translate(-2.4 -2.3)" d="M0.68 0 L0.35 3.07 Q0.55 4.34 2.19 4.25 L3.93 4.22 Q5.46 4.38 5.46 2.72 M-1.43 0.2 L5.74 0 M5.68 0 L5.2 4.56" stroke="#000" stroke-width="0.8"/>
<path transform="translate(325.9 279.5) rotate(5.03) translate(-3.29 -3.08)" d="M1.22 0 L0.51 4.1 Q0.75 6.01 2.99 5.66 L5.39 5.72 Q7.48 5.86 7.48 3.63 M-2.21 -0.08 L7.86 0.01 M7.33 0 L7.78 6.1" stroke="#000" stroke-width="0.8"/>
<path transform="translate(281.2 293.2) rotate(-5.56) translate(-2.22 -2.51)" d="M0.88 0 L0.63 3.34 Q0.5 4.56 2.02 4.65 L3.63 4.82 Q5.04 4.77 5.04 2.96 M-0.72 -0.26 L5.29 0.05 M5.14 0 L5.2 4.96" stroke="#000" stroke-width="0.8"/>
<path transform="translate(270.2 296) rotate(-1.23) translate(-2.34 -2.62)" d="M0.43 0 L0.81 3.49 Q0.53 4.95 2.13 4.95 L3.83 4.79 Q5.33 4.99 5.33 3.09 M-1.39 0.14 L5.59 0.07 M5.14 0 L5.24 5.19" stroke="#000" stroke-width="0.8"/>
<path transform="translate(295.6 298) rotate(-5.83) translate(-2.25 -2.32)" d="M1.01 0 L0.82 3.09 Q0.51 4.55 2.04 4.41 L3.68 4.42 Q5.1 4.42 5.1 2.74 M-0.89 0.22 L5.36 0.09 M5.17 0 L4.95 4.59" stroke="#000" stroke-width="0.8"/>
<path transform="translate(284.6 305.9) rotate(4.95) translate(-2.48 -2.64)" d="M0.94 0 L0.46 3.52 Q0.56 4.86 2.26 5.26 L4.06 5.11 Q5.64 5.02 5.64 3.12 M-1.02 -0.22 L5.92 0.13 M5.88 0 L5.87 5.23" stroke="#000" stroke-width="0.8"/>
<path transform="translate(268.8 310.5) rotate(5.24) translate(-2.54 -2.63)" d="M0.76 0 L0.8 3.51 Q0.58 5.16 2.31 5.2 L4.15 4.91 Q5.77 5.01 5.77 3.11 M-0.84 0.02 L6.06 0.18 M5.55 0 L6.04 5.21" stroke="#000" stroke-width="0.8"/>
<path transform="translate(278.4 316.7) rotate(5.93) translate(-2.56 -2.35)" d="M0.6 0 L0.55 3.13 Q0.58 4.35 2.33 4.46 L4.19 4.65 Q5.82 4.47 5.82 2.77 M-1.11 0.11 L6.11 -0.04 M5.98 0 L5.99 4.65" stroke="#000" stroke-width="0.8"/>
<path transform="translate(290.1 316.7) rotate(5.69) translate(-2.51 -2.69)" d="M0.52 0 L0.67 3.58 Q0.57 5.29 2.28 5.03 L4.1 5.16 Q5.7 5.12 5.7 3.17 M-0.95 0.18 L5.99 -0.2 M5.69 0 L5.43 5.32" stroke="#000" stroke-width="0.8"/>
<path transform="translate(299.8 315.3) rotate(-2.05) translate(-2.23 -2.62)" d="M0.68 0 L0.41 3.5 Q0.51 4.85 2.03 4.92 L3.65 5.17 Q5.07 4.99 5.07 3.1 M-1.02 -0.12 L5.33 -0.16 M4.96 0 L5.17 5.19" stroke="#000" stroke-width="0.8"/>
<path transform="translate(315.6 312.5) rotate(5.34) translate(-2.39 -2.55)" d="M0.88 0 L0.24 3.4 Q0.54 5.01 2.17 4.7 L3.91 4.74 Q5.44 4.85 5.44 3.01 M-0.8 -0.08 L5.71 -0.11 M5.65 0 L5.5 5.05" stroke="#000" stroke-width="0.8"/>
<path transform="translate(270.2 329.7) rotate(-0.51) translate(-2.61 -2.42)" d="M0.84 0 L0.94 3.22 Q0.59 4.46 2.37 4.75 L4.27 4.45 Q5.93 4.6 5.93 2.85 M-1.28 -0.28 L6.23 -0.12 M6.2 0 L5.91 4.78" stroke="#000" stroke-width="0.8"/>
<path transform="translate(283.2 331.8) rotate(-3.31) translate(-2.57 -2.34)" d="M0.85 0 L0.84 3.13 Q0.58 4.47 2.34 4.41 L4.21 4.66 Q5.84 4.47 5.84 2.77 M-0.92 0.09 L6.13 -0.15 M5.91 0 L5.81 4.64" stroke="#000" stroke-width="0.8"/>
<path transform="translate(270 346) rotate(2.56) translate(-2.64 -2.4)" d="M0.75 0 L0.62 3.2 Q0.6 4.65 2.4 4.76 L4.32 4.57 Q6 4.57 6 2.83 M-1.45 0.26 L6.3 -0.16 M6.2 0 L6.11 4.75" stroke="#000" stroke-width="0.8"/>
<path transform="translate(316.5 168.1) rotate(4.27) translate(-2.15 -0.58)" d="M0.82 0 L0.64 3.26 Q0.49 4.43 1.96 4.57 L3.52 4.48 Q4.9 4.65 4.9 2.88 M-0.72 0.22 L5.14 -0.13 M5.37 -3.65 Q4.99 -2.79 4.9 -1.4 L4.72 4.84" stroke="#000" stroke-width="0.8"/>
<path transform="translate(312.4 182.6) rotate(2.19) translate(-2.08 -0.62)" d="M0.81 0 L0.35 3.45 Q0.47 4.95 1.89 4.89 L3.41 5.17 Q4.74 4.93 4.74 3.06 M-0.93 0.18 L4.97 0.07 M5 -3.49 Q4.83 -2.96 4.74 -1.48 L4.82 5.13" stroke="#000" stroke-width="0.8"/>
<path transform="translate(328.9 178.5) rotate(-6.92) translate(-2.21 -0.56)" d="M0.9 0 L0.68 3.14 Q0.5 4.42 2.01 4.33 L3.62 4.5 Q5.02 4.49 5.02 2.78 M-0.8 -0.18 L5.28 0.09 M5.1 -3.76 Q5.13 -2.69 5.02 -1.35 L4.85 4.67" stroke="#000" stroke-width="0.8"/>
<path transform="translate(321.3 195) rotate(8.37) translate(-2.04 -0.57)" d="M0.48 0 L0.36 3.21 Q0.46 4.79 1.86 4.45 L3.34 4.51 Q4.64 4.59 4.64 2.85 M-1.07 -0.22 L4.88 -0.09 M4.92 -3.78 Q4.74 -2.75 4.64 -1.38 L4.82 4.77" stroke="#000" stroke-width="0.8"/>
<path transform="translate(340.6 197) rotate(7.27) translate(-2.03 -0.55)" d="M0.83 0 L0.54 3.1 Q0.46 4.54 1.85 4.34 L3.32 4.27 Q4.61 4.42 4.61 2.74 M-0.83 -0.02 L4.85 0.02 M5.14 -3.31 Q4.71 -2.65 4.61 -1.33 L4.53 4.6" stroke="#000" stroke-width="0.8"/>
<path transform="translate(308.9 200.5) rotate(0.06) translate(-2.07 -0.64)" d="M0.73 0 L0.33 3.56 Q0.47 5.23 1.88 4.86 L3.39 5.26 Q4.71 5.09 4.71 3.16 M-0.99 -0.09 L4.94 0.18 M4.86 -4.34 Q4.8 -3.06 4.71 -1.53 L4.55 5.3" stroke="#000" stroke-width="0.8"/>
<path transform="translate(311 211.7) rotate(2.88) translate(-2.15 -0.62)" d="M0.86 0 L0.26 3.46 Q0.49 4.84 1.95 5.01 L3.52 5.17 Q4.89 4.94 4.89 3.06 M-0.97 0.11 L5.13 0.11 M5.17 -3.52 Q4.98 -2.96 4.89 -1.48 L4.98 5.14" stroke="#000" stroke-width="0.8"/>
<path transform="translate(327.5 209.6) rotate(5.31) translate(-2.06 -0.57)" d="M0.48 0 L0.68 3.22 Q0.47 4.61 1.87 4.61 L3.37 4.68 Q4.69 4.6 4.69 2.85 M-0.73 -0.2 L4.92 -0.06 M4.65 -3.76 Q4.78 -2.76 4.69 -1.38 L4.69 4.78" stroke="#000" stroke-width="0.8"/>
<path transform="translate(344.7 211.7) rotate(0.98) translate(-2.28 -0.61)" d="M0.77 0 L0.38 3.4 Q0.52 5.03 2.07 5 L3.73 5.02 Q5.18 4.86 5.18 3.01 M-1.43 0.1 L5.44 0.1 M5.6 -3.5 Q5.28 -2.91 5.18 -1.46 L5.35 5.05" stroke="#000" stroke-width="0.8"/>
<path transform="translate(334.4 217.2) rotate(2.33) translate(-2.23 -0.63)" d="M0.49 0 L0.63 3.5 Q0.51 5.1 2.03 5.06 L3.65 4.89 Q5.08 5 5.08 3.1 M-1.47 0.06 L5.33 0.13 M5.25 -4.29 Q5.18 -3 5.08 -1.5 L4.96 5.2" stroke="#000" stroke-width="0.8"/>
<path transform="translate(304.1 221.3) rotate(8.52) translate(-1.96 -0.61)" d="M0.55 0 L0.55 3.41 Q0.44 4.66 1.78 5.03 L3.2 4.78 Q4.45 4.87 4.45 3.02 M-1.33 0.08 L4.67 -0.14 M4.6 -4.32 Q4.54 -2.92 4.45 -1.46 L4.43 5.06" stroke="#000" stroke-width="0.8"/>
<path transform="translate(322.7 222.7) rotate(-9.25) translate(-2.15 -0.62)" d="M0.46 0 L0.33 3.49 Q0.49 5.05 1.96 4.91 L3.52 4.9 Q4.89 4.99 4.89 3.09 M-1.02 -0.17 L5.14 0.12 M5 -3.65 Q4.99 -2.99 4.89 -1.5 L5.01 5.19" stroke="#000" stroke-width="0.8"/>
<path transform="translate(315.8 228.2) rotate(4.78) translate(-1.72 -0.43)" d="M0.55 0 L0.35 2.38 Q0.39 3.26 1.56 3.45 L2.81 3.48 Q3.9 3.41 3.9 2.11 M-0.81 -0.04 L4.1 0 M4.28 -2.91 Q3.98 -2.04 3.9 -1.02 L4.02 3.54" stroke="#000" stroke-width="0.8"/>
<path transform="translate(325.5 231) rotate(8.27) translate(-2.34 -0.62)" d="M1.06 0 L0.26 3.49 Q0.53 4.97 2.13 4.8 L3.83 4.96 Q5.32 4.99 5.32 3.09 M-1.01 0.12 L5.59 -0.02 M5.58 -4.3 Q5.43 -2.99 5.32 -1.5 L5.28 5.19" stroke="#000" stroke-width="0.8"/>
<path transform="translate(301.3 233.7) rotate(3.98) translate(-2.04 -0.55)" d="M0.61 0 L0.3 3.09 Q0.46 4.5 1.85 4.28 L3.33 4.31 Q4.63 4.41 4.63 2.74 M-0.97 0.11 L4.86 0.17 M5.23 -3.13 Q4.72 -2.65 4.63 -1.32 L4.79 4.59" stroke="#000" stroke-width="0.8"/>
<path transform="translate(337.9 233.7) rotate(-8.81) translate(-2.22 -0.61)" d="M0.41 0 L0.73 3.43 Q0.51 5.02 2.02 4.97 L3.64 4.79 Q5.06 4.91 5.06 3.04 M-1.23 -0.2 L5.31 0.05 M5.96 -4.12 Q5.16 -2.94 5.06 -1.47 L4.87 5.1" stroke="#000" stroke-width="0.8"/>
<path transform="translate(279.5 231.2) rotate(7.08) translate(-1.99 -0.57)" d="M0.61 0 L0.24 3.19 Q0.45 4.38 1.81 4.41 L3.26 4.69 Q4.53 4.56 4.53 2.83 M-1.02 0.27 L4.75 0.15 M5.15 -3.67 Q4.62 -2.74 4.53 -1.37 L4.64 4.75" stroke="#000" stroke-width="0.8"/>
<path transform="translate(305.5 159.9) rotate(0.7) translate(-2.81 -0.41)" d="M0.31 0 L0.21 2.27 Q0.3 3.09 1.19 3.38 L2.15 3.32 Q2.99 3.25 2.99 2.01 M2.99 0 L2.99 1.3 M3.56 0 L3.46 2.27 Q3.28 3.23 4.18 3.32 L5.13 3.21 Q5.97 3.25 5.97 2.01 M-0.51 0.13 L6.12 -0.1 M5.92 -2.79 Q6.03 -1.95 5.97 -0.97 L5.99 3.38" stroke="#000" stroke-width="0.8"/>
<path transform="translate(257.9 162) rotate(5.78) translate(-3.16 -0.42)" d="M0.46 0 L0.15 2.37 Q0.34 3.52 1.34 3.4 L2.42 3.25 Q3.36 3.39 3.36 2.1 M3.36 0 L3.36 1.36 M3.76 0 L3.74 2.37 Q3.69 3.52 4.7 3.39 L5.77 3.44 Q6.71 3.39 6.71 2.1 M-0.9 -0.1 L6.88 0.11 M6.9 -2.98 Q6.78 -2.03 6.71 -1.02 L6.74 3.53" stroke="#000" stroke-width="0.8"/>
<path transform="translate(254.4 179.3) rotate(-1.33) translate(-3.74 -0.55)" d="M0.62 0 L0.5 3.09 Q0.4 4.39 1.59 4.23 L2.86 4.52 Q3.98 4.42 3.98 2.74 M3.98 0 L3.98 1.77 M4.32 0 L4.36 3.09 Q4.38 4.37 5.57 4.49 L6.84 4.51 Q7.96 4.42 7.96 2.74 M-1.04 0.08 L8.16 0.07 M8.25 -3.85 Q8.04 -2.65 7.96 -1.33 L8.09 4.59" stroke="#000" stroke-width="0.8"/>
<path transform="translate(272.3 173.7) rotate(-5.47) translate(-4.12 -0.54)" d="M0.47 0 L0.38 3 Q0.44 4.41 1.75 4.43 L3.16 4.35 Q4.39 4.29 4.39 2.66 M4.39 0 L4.39 1.72 M5.13 0 L4.58 3 Q4.82 4.11 6.14 4.49 L7.54 4.42 Q8.77 4.29 8.77 2.66 M-1.29 -0.23 L8.99 -0.09 M9.5 -3.67 Q8.86 -2.57 8.77 -1.29 L8.83 4.46" stroke="#000" stroke-width="0.8"/>
<path transform="translate(265.4 182) rotate(7.47) translate(-4.39 -0.6)" d="M0.46 0 L0.2 3.38 Q0.47 4.95 1.87 4.64 L3.36 5.06 Q4.67 4.83 4.67 2.99 M4.67 0 L4.67 1.93 M5.44 0 L4.96 3.38 Q5.14 4.98 6.54 4.67 L8.03 4.84 Q9.34 4.83 9.34 2.99 M-1.32 0.17 L9.57 0.15 M10.1 -4.35 Q9.43 -2.9 9.34 -1.45 L9.47 5.02" stroke="#000" stroke-width="0.8"/>
<path transform="translate(259.2 191.7) rotate(-0.45) translate(-4.09 -0.63)" d="M0.66 0 L0.59 3.5 Q0.43 4.79 1.74 4.78 L3.13 5.02 Q4.35 5 4.35 3.1 M4.35 0 L4.35 2 M4.85 0 L4.73 3.5 Q4.78 4.76 6.09 5.12 L7.48 4.76 Q8.7 5 8.7 3.1 M-0.73 0.19 L8.91 -0.02 M8.72 -3.85 Q8.78 -3 8.7 -1.5 L8.59 5.2" stroke="#000" stroke-width="0.8"/>
<path transform="translate(278.5 192.3) rotate(8.55) translate(-3.98 -0.54)" d="M0.52 0 L0.22 3.03 Q0.42 4.43 1.7 4.49 L3.05 4.48 Q4.24 4.33 4.24 2.69 M4.24 0 L4.24 1.73 M4.63 0 L4.6 3.03 Q4.66 4.25 5.93 4.45 L7.29 4.18 Q8.48 4.33 8.48 2.69 M-0.86 0.25 L8.69 0.09 M8.4 -3.84 Q8.56 -2.6 8.48 -1.3 L8.35 4.51" stroke="#000" stroke-width="0.8"/>
<path transform="translate(268.2 195.8) rotate(-0.12) translate(-4.2 -0.6)" d="M0.58 0 L0.51 3.35 Q0.45 4.86 1.79 4.99 L3.22 4.9 Q4.47 4.79 4.47 2.97 M4.47 0 L4.47 1.92 M5.25 0 L5.13 3.35 Q4.91 4.95 6.25 4.9 L7.68 4.57 Q8.93 4.79 8.93 2.97 M-0.85 0.2 L9.15 -0.03 M9.63 -4.14 Q9.02 -2.88 8.93 -1.44 L9.09 4.98" stroke="#000" stroke-width="0.8"/>
<path transform="translate(236.5 199.2) rotate(-5.2) translate(-3.99 -0.61)" d="M0.52 0 L0.34 3.43 Q0.42 4.7 1.7 4.87 L3.06 5.13 Q4.25 4.89 4.25 3.03 M4.25 0 L4.25 1.96 M4.92 0 L4.9 3.43 Q4.67 5.02 5.95 5.06 L7.31 5.14 Q8.5 4.89 8.5 3.03 M-0.76 -0.13 L8.71 -0.1 M8.77 -4.38 Q8.58 -2.94 8.5 -1.47 L8.41 5.09" stroke="#000" stroke-width="0.8"/>
<path transform="translate(244.8 195.1) rotate(-3.75) translate(-4.35 -0.64)" d="M0.8 0 L0.68 3.57 Q0.46 5.25 1.85 5.11 L3.34 4.89 Q4.63 5.1 4.63 3.16 M4.63 0 L4.63 2.04 M5.46 0 L4.99 3.57 Q5.1 5.16 6.49 5.03 L7.97 5.11 Q9.26 5.1 9.26 3.16 M-0.67 -0.21 L9.5 0.01 M9.77 -4.04 Q9.36 -3.06 9.26 -1.53 L9.43 5.3" stroke="#000" stroke-width="0.8"/>
<path transform="translate(251 204) rotate(3.11) translate(-3.97 -0.64)" d="M0.38 0 L0.28 3.56 Q0.42 4.98 1.69 5.3 L3.04 4.84 Q4.22 5.09 4.22 3.16 M4.22 0 L4.22 2.04 M4.69 0 L4.75 3.56 Q4.64 5.34 5.91 4.92 L7.26 5.06 Q8.44 5.09 8.44 3.16 M-0.8 0.12 L8.65 0.1 M8.99 -4.33 Q8.53 -3.05 8.44 -1.53 L8.36 5.29" stroke="#000" stroke-width="0.8"/>
<path transform="translate(277.8 208.9) rotate(-6.02) translate(-3.66 -0.61)" d="M0.76 0 L0.46 3.42 Q0.39 4.92 1.56 4.96 L2.8 4.93 Q3.89 4.88 3.89 3.03 M3.89 0 L3.89 1.95 M4.53 0 L4.19 3.42 Q4.28 4.67 5.45 4.67 L6.7 4.64 Q7.79 4.88 7.79 3.03 M-0.94 -0.21 L7.98 -0.15 M8.09 -3.45 Q7.87 -2.93 7.79 -1.46 L7.85 5.07" stroke="#000" stroke-width="0.8"/>
<path transform="translate(267.5 210.9) rotate(-6.62) translate(-3.86 -0.62)" d="M0.48 0 L0.37 3.47 Q0.41 5.05 1.64 4.93 L2.96 5.07 Q4.11 4.95 4.11 3.07 M4.11 0 L4.11 1.98 M4.48 0 L4.73 3.47 Q4.52 4.88 5.75 5.12 L7.06 4.72 Q8.21 4.95 8.21 3.07 M-0.69 -0.16 L8.42 0.14 M8.79 -3.79 Q8.29 -2.97 8.21 -1.49 L8.14 5.15" stroke="#000" stroke-width="0.8"/>
<path transform="translate(258.2 218.8) rotate(7.19) translate(-3.65 -0.55)" d="M0.62 0 L0.43 3.09 Q0.39 4.48 1.55 4.27 L2.79 4.25 Q3.88 4.41 3.88 2.73 M3.88 0 L3.88 1.76 M4.23 0 L4.49 3.09 Q4.27 4.36 5.43 4.48 L6.67 4.44 Q7.76 4.41 7.76 2.73 M-1.02 -0.23 L7.95 -0.17 M8.34 -3.85 Q7.83 -2.65 7.76 -1.32 L7.9 4.58" stroke="#000" stroke-width="0.8"/>
<path transform="translate(250.6 222.2) rotate(-7.37) translate(-3.93 -0.61)" d="M0.46 0 L0.35 3.44 Q0.42 4.92 1.67 4.72 L3.01 4.79 Q4.18 4.91 4.18 3.04 M4.18 0 L4.18 1.96 M4.92 0 L4.49 3.44 Q4.6 4.85 5.86 5.04 L7.19 4.77 Q8.37 4.91 8.37 3.04 M-1.13 -0.17 L8.57 -0.05 M8.59 -3.79 Q8.45 -2.95 8.37 -1.47 L8.36 5.11" stroke="#000" stroke-width="0.8"/>
<path transform="translate(229.9 225.7) rotate(2.61) translate(-4.34 -0.53)" d="M0.5 0 L0.2 2.99 Q0.46 4.25 1.85 4.11 L3.32 4.26 Q4.62 4.28 4.62 2.65 M4.62 0 L4.62 1.71 M5.38 0 L4.85 2.99 Q5.08 4.11 6.47 4.27 L7.94 4.14 Q9.24 4.28 9.24 2.65 M-1.21 -0.03 L9.47 -0.13 M9.21 -3.54 Q9.33 -2.57 9.24 -1.28 L9.22 4.45" stroke="#000" stroke-width="0.8"/>
<path transform="translate(266.4 229.8) rotate(-8.64) translate(-4.39 -0.59)" d="M0.79 0 L0.5 3.33 Q0.47 4.93 1.87 4.97 L3.37 4.92 Q4.68 4.75 4.68 2.95 M4.68 0 L4.68 1.9 M5.11 0 L5.39 3.33 Q5.14 4.76 6.55 4.63 L8.04 4.6 Q9.35 4.75 9.35 2.95 M-0.76 -0.16 L9.58 -0.16 M9.51 -3.4 Q9.44 -2.85 9.35 -1.43 L9.34 4.94" stroke="#000" stroke-width="0.8"/>
<path transform="translate(253.4 236) rotate(-1.39) translate(-4.23 -0.54)" d="M0.47 0 L0.54 3.01 Q0.45 4.24 1.8 4.14 L3.24 4.51 Q4.5 4.3 4.5 2.67 M4.5 0 L4.5 1.72 M5.12 0 L4.78 3.01 Q4.95 4.09 6.3 4.37 L7.74 4.31 Q9 4.3 9 2.67 M-1.33 -0.02 L9.22 0.08 M9.39 -3.67 Q9.09 -2.58 9 -1.29 L9 4.47" stroke="#000" stroke-width="0.8"/>
<path transform="translate(213.4 238.7) rotate(-7.24) translate(-4.13 -0.61)" d="M0.85 0 L0.57 3.39 Q0.44 5.02 1.76 4.78 L3.16 5.04 Q4.39 4.84 4.39 3 M4.39 0 L4.39 1.94 M4.84 0 L4.69 3.39 Q4.83 4.89 6.15 5.04 L7.55 4.64 Q8.78 4.84 8.78 3 M-1.16 -0.27 L9 -0.02 M8.82 -4.17 Q8.87 -2.91 8.78 -1.45 L8.87 5.04" stroke="#000" stroke-width="0.8"/>
<path transform="translate(333 99.8) rotate(20) translate(-2.35 -0.13)" d="M4.47 1.68 C2.91 -0.81 0 0.51 0.2 2.97 C0 5.37 3.13 5.56 4.47 3.46 M5.29 -4.65 Q4.56 -3.83 4.47 -1.53 L4.47 5.32" stroke="#f00" stroke-width="0.9"/>
<path transform="translate(320 244) rotate(0) translate(-1.7 -3.47)" d="M0.7 0 L0.25 2.7 Q0.39 4.04 1.55 3.83 L2.78 3.75 Q3.87 3.85 3.87 2.39 M-0.57 -0.08 L4.06 -0.03 M3.81 0 L3.92 5.39 Q3.87 6.37 2.42 6.67" stroke="#f00" stroke-width="0.9"/>
<path transform="translate(466.9 275.7) rotate(5) translate(-3.66 -3.24)" d="M0.43 0 L0.37 2.52 Q0.39 3.62 1.56 3.67 L2.8 3.47 Q3.89 3.6 3.89 2.23 M3.89 0 L3.89 1.44 M4.32 0 L4.11 2.52 Q4.28 3.76 5.45 3.47 L6.7 3.47 Q7.79 3.6 7.79 2.23 M-0.84 0.04 L7.98 0.11 M7.62 0 L7.71 5.03 Q7.79 6.05 6.49 6.44" stroke="#f00" stroke-width="0.9"/>
<path transform="translate(395.5 339.5) rotate(0) translate(-2.36 -4.33)" d="M2.97 1.23 C2.05 -0.52 0 0.48 0.18 2.65 C0 4.81 2.05 5.34 4.31 3.59 M4.68 0 L4.38 6.74 Q4.51 7.96 2.91 8.46" stroke="#f00" stroke-width="0.9"/>
<path transform="translate(240.2 281.5) rotate(5) translate(-3.76 -3.86)" d="M0.57 0 L0.57 3 Q0.4 4.42 1.6 4.36 L2.88 4.3 Q4 4.29 4 2.66 M4 0 L4 1.72 M4.37 0 L4.27 3 Q4.4 4.36 5.59 4.33 L6.87 4.42 Q7.99 4.29 7.99 2.66 M-0.62 0.24 L8.19 -0.11 M7.82 0 L8.12 6.01 Q7.99 7.57 6.34 7.89" stroke="#f00" stroke-width="0.9"/>
<path transform="translate(261.1 388) rotate(8) translate(-3.27 -3.41)" d="M0.5 0 L0.42 2.65 Q0.35 3.62 1.39 3.88 L2.5 3.83 Q3.48 3.78 3.48 2.35 M3.48 0 L3.48 1.51 M3.95 0 L3.9 2.65 Q3.82 3.9 4.87 3.6 L5.98 3.78 Q6.95 3.78 6.95 2.35 M-0.67 0.09 L7.13 0.04 M6.84 0 L7.08 5.3 Q6.95 6.84 5.55 6.76" stroke="#f00" stroke-width="0.9"/>
</g>
<g fill="#000" stroke="#000" stroke-width="0.3" stroke-linejoin="round">
<path d="M394.52 77.47 L393.41 76.45 L392.06 75.64 L390.57 75.14 L389.02 75 L387.5 75.08 L386.06 75.37 L384.72 75.85 L383.55 76.52 L382.58 77.34 L381.63 78.16 L380.91 79.24 L380.55 80.59 L380.67 81.99 L381.31 83.23 L382.33 84.15 L383.56 84.77 L384.93 85.13 L386.39 85.28 L387.89 85.22 L389.4 84.95 L390.87 84.48 L392.21 83.72 L393.38 82.75 L394.38 81.7 L394.09 81.38 L392.99 82.24 L391.73 82.79 L390.42 83.14 L389.1 83.4 L387.79 83.49 L386.53 83.4 L385.38 83.17 L384.4 82.79 L383.64 82.31 L383.11 81.8 L382.75 81.26 L382.52 80.57 L382.49 79.73 L382.7 78.88 L383.21 78.05 L384.12 77.51 L385.2 77.13 L386.38 76.89 L387.63 76.8 L388.91 76.86 L390.18 77.09 L391.44 77.36 L392.69 77.72 L393.95 78.31Z M396.42 64.83 L395.95 65.31 L395.48 65.83 L395.12 66.45 L394.79 67.12 L394.5 67.83 L394.25 68.59 L394.04 69.4 L393.86 70.25 L393.72 71.14 L393.61 72.09 L393.58 73.72 L393.56 75.33 L393.54 76.94 L393.52 78.56 L393.5 80.17 L393.49 81.78 L393.67 83.39 L393.88 85 L394.59 85 L394.79 83.39 L394.98 81.78 L394.96 80.17 L394.94 78.56 L394.93 76.94 L394.91 75.33 L394.89 73.72 L394.86 72.13 L394.88 71.25 L394.95 70.4 L395.05 69.59 L395.19 68.83 L395.35 68.1 L395.56 67.42 L395.79 66.77 L396.06 66.16 L396.3 65.55 L396.61 64.97Z"/>
<path d="M433.9 118.07 L433.45 117.26 L432.7 116.58 L431.76 116.23 L430.76 116.24 L429.8 116.46 L428.91 116.86 L428.1 117.4 L427.37 118.04 L426.6 118.69 L425.95 119.54 L425.48 120.58 L425.25 121.79 L425.3 123.04 L425.65 124.2 L426.31 125.19 L427.2 125.95 L428.27 126.46 L429.44 126.75 L430.7 126.84 L432.02 126.76 L433.4 126.5 L434.8 125.99 L436.2 125.28 L437.62 124.46 L437.38 123.94 L435.87 124.48 L434.43 124.79 L433.1 124.95 L431.89 125.05 L430.8 124.99 L429.86 124.79 L429.09 124.48 L428.48 124.1 L428.03 123.66 L427.67 123.17 L427.39 122.57 L427.22 121.79 L427.21 120.94 L427.33 120.16 L427.61 119.42 L428.03 118.75 L428.68 118.32 L429.41 118.09 L430.12 117.99 L430.79 118.03 L431.38 118.18 L431.93 118.29 L432.5 118.42 L433.15 118.77Z M439.84 106.33 L439.43 106.81 L439.01 107.35 L438.7 107.97 L438.42 108.64 L438.17 109.35 L437.96 110.11 L437.77 110.91 L437.62 111.76 L437.5 112.65 L437.4 113.6 L437.38 115.22 L437.36 116.83 L437.34 118.44 L437.32 120.06 L437.3 121.67 L437.28 123.28 L437.47 124.89 L437.67 126.5 L438.38 126.5 L438.59 124.89 L438.78 123.28 L438.76 121.67 L438.74 120.06 L438.72 118.44 L438.7 116.83 L438.68 115.22 L438.65 113.62 L438.67 112.74 L438.73 111.89 L438.81 111.08 L438.92 110.31 L439.06 109.59 L439.23 108.9 L439.43 108.26 L439.65 107.65 L439.83 107.04 L440.07 106.47Z"/>
<path d="M475.92 149.43 L475.59 148.65 L474.98 147.96 L474.14 147.59 L473.25 147.62 L472.42 147.86 L471.67 148.27 L471.02 148.81 L470.34 149.35 L469.68 150 L469.13 150.83 L468.74 151.83 L468.55 152.98 L468.59 154.16 L468.86 155.25 L469.39 156.21 L470.14 156.97 L471.07 157.5 L472.1 157.79 L473.18 157.88 L474.31 157.78 L475.46 157.51 L476.62 157 L477.76 156.31 L478.91 155.52 L478.65 155.06 L477.4 155.58 L476.21 155.87 L475.12 156.01 L474.16 156.08 L473.31 156.01 L472.59 155.82 L472.02 155.54 L471.58 155.2 L471.22 154.82 L470.92 154.36 L470.67 153.76 L470.53 152.98 L470.51 152.15 L470.61 151.4 L470.82 150.71 L471.14 150.08 L471.6 149.61 L472.21 149.4 L472.78 149.34 L473.28 149.4 L473.69 149.56 L474.08 149.64 L474.55 149.74 L475.12 150.07Z M478.78 147.72 L478.23 148.94 L478.23 150.17 L478.23 151.39 L478.23 152.62 L478.23 153.84 L478.23 155.06 L478.23 156.29 L478.78 157.51 L479.66 157.51 L480.21 156.29 L480.21 155.06 L480.21 153.84 L480.21 152.62 L480.21 151.39 L480.21 150.17 L480.21 148.94 L479.66 147.72Z"/>
<path d="M547.63 167.97 L547.31 167.18 L546.71 166.49 L545.88 166.11 L544.99 166.14 L544.16 166.38 L543.42 166.8 L542.78 167.36 L542.1 167.89 L541.45 168.56 L540.91 169.41 L540.53 170.43 L540.35 171.59 L540.38 172.77 L540.64 173.87 L541.12 174.83 L541.83 175.6 L542.7 176.15 L543.66 176.45 L544.67 176.52 L545.68 176.38 L546.67 176.05 L547.59 175.47 L548.44 174.74 L549.26 173.91 L549 173.59 L548.06 174.19 L547.11 174.52 L546.24 174.68 L545.46 174.74 L544.78 174.66 L544.2 174.47 L543.73 174.21 L543.34 173.89 L543 173.51 L542.7 173.02 L542.46 172.4 L542.32 171.59 L542.31 170.74 L542.41 169.96 L542.62 169.26 L542.93 168.63 L543.37 168.12 L543.97 167.91 L544.53 167.85 L545.02 167.92 L545.41 168.08 L545.78 168.16 L546.25 168.26 L546.81 168.61Z M556.3 167.97 L555.98 167.18 L555.38 166.49 L554.55 166.11 L553.66 166.14 L552.83 166.38 L552.09 166.8 L551.45 167.36 L550.77 167.89 L550.12 168.56 L549.58 169.41 L549.2 170.43 L549.02 171.59 L549.05 172.78 L549.31 173.88 L549.83 174.85 L550.57 175.63 L551.49 176.17 L552.51 176.47 L553.59 176.56 L554.7 176.46 L555.84 176.19 L556.98 175.67 L558.1 174.97 L559.23 174.17 L558.98 173.71 L557.74 174.25 L556.57 174.55 L555.49 174.7 L554.55 174.77 L553.72 174.7 L553.02 174.5 L552.47 174.22 L552.03 173.88 L551.68 173.49 L551.38 173.01 L551.13 172.39 L550.99 171.59 L550.98 170.74 L551.08 169.96 L551.29 169.26 L551.6 168.63 L552.04 168.12 L552.64 167.91 L553.2 167.85 L553.69 167.92 L554.08 168.08 L554.45 168.16 L554.92 168.26 L555.48 168.61Z M559.09 166.21 L558.55 167.46 L558.55 168.71 L558.55 169.96 L558.55 171.21 L558.55 172.46 L558.55 173.71 L558.55 174.96 L559.09 176.21 L559.98 176.21 L560.52 174.96 L560.52 173.71 L560.52 172.46 L560.52 171.21 L560.52 169.96 L560.52 168.71 L560.52 167.46 L559.98 166.21Z"/>
<path d="M552.03 211.31 L551.71 210.52 L551.1 209.83 L550.28 209.46 L549.39 209.48 L548.56 209.73 L547.82 210.14 L547.18 210.7 L546.5 211.23 L545.85 211.9 L545.31 212.74 L544.93 213.75 L544.75 214.91 L544.78 216.09 L545.04 217.18 L545.53 218.14 L546.23 218.91 L547.1 219.46 L548.06 219.76 L549.07 219.83 L550.08 219.69 L551.06 219.36 L551.99 218.79 L552.84 218.06 L553.66 217.23 L553.4 216.91 L552.46 217.5 L551.51 217.83 L550.64 217.98 L549.86 218.05 L549.18 217.97 L548.6 217.78 L548.13 217.52 L547.74 217.2 L547.4 216.82 L547.1 216.33 L546.86 215.71 L546.72 214.91 L546.71 214.06 L546.81 213.3 L547.02 212.6 L547.32 211.97 L547.77 211.47 L548.36 211.26 L548.93 211.2 L549.42 211.26 L549.81 211.42 L550.19 211.5 L550.65 211.6 L551.22 211.95Z M560.7 211.31 L560.38 210.52 L559.77 209.83 L558.95 209.46 L558.06 209.48 L557.23 209.73 L556.49 210.14 L555.85 210.7 L555.17 211.23 L554.52 211.9 L553.98 212.74 L553.6 213.75 L553.42 214.91 L553.45 216.09 L553.71 217.19 L554.23 218.16 L554.97 218.94 L555.89 219.48 L556.91 219.78 L557.99 219.87 L559.1 219.76 L560.24 219.49 L561.38 218.97 L562.5 218.28 L563.63 217.48 L563.38 217.02 L562.14 217.56 L560.97 217.86 L559.89 218 L558.95 218.07 L558.12 218 L557.42 217.8 L556.87 217.52 L556.43 217.19 L556.08 216.8 L555.78 216.32 L555.53 215.71 L555.39 214.91 L555.38 214.06 L555.48 213.3 L555.69 212.6 L555.99 211.97 L556.44 211.47 L557.03 211.26 L557.6 211.2 L558.09 211.26 L558.48 211.42 L558.86 211.5 L559.32 211.6 L559.89 211.95Z M565.37 199.83 L565 200.31 L564.64 200.83 L564.38 201.44 L564.15 202.09 L563.95 202.79 L563.77 203.53 L563.62 204.31 L563.49 205.14 L563.39 206.01 L563.31 206.93 L563.28 208.51 L563.26 210.08 L563.24 211.65 L563.22 213.22 L563.2 214.8 L563.18 216.37 L563.37 217.94 L563.58 219.51 L564.29 219.51 L564.49 217.94 L564.68 216.37 L564.66 214.8 L564.64 213.22 L564.62 211.65 L564.6 210.08 L564.58 208.51 L564.56 206.95 L564.57 206.08 L564.61 205.25 L564.67 204.45 L564.76 203.7 L564.87 202.99 L565 202.32 L565.16 201.7 L565.34 201.11 L565.45 200.52 L565.62 199.97Z"/>
<path d="M516.55 320.4 L516.24 319.56 L515.65 318.8 L514.8 318.38 L513.88 318.41 L513.04 318.69 L512.31 319.15 L511.68 319.74 L510.95 320.3 L510.31 321.06 L509.78 322 L509.42 323.12 L509.25 324.38 L509.28 325.66 L509.53 326.83 L510 327.86 L510.68 328.71 L511.55 329.33 L512.53 329.69 L513.56 329.77 L514.59 329.61 L515.58 329.24 L516.5 328.62 L517.34 327.83 L518.18 326.95 L517.89 326.63 L516.96 327.34 L516.01 327.74 L515.12 327.92 L514.35 327.99 L513.68 327.9 L513.13 327.7 L512.68 327.42 L512.29 327.08 L511.93 326.64 L511.61 326.07 L511.36 325.32 L511.22 324.38 L511.22 323.4 L511.34 322.52 L511.56 321.73 L511.87 321.04 L512.27 320.44 L512.88 320.18 L513.44 320.11 L513.92 320.18 L514.28 320.36 L514.64 320.45 L515.12 320.57 L515.7 321Z M525.22 320.4 L524.91 319.56 L524.32 318.8 L523.47 318.38 L522.55 318.41 L521.71 318.69 L520.98 319.15 L520.35 319.74 L519.62 320.3 L518.98 321.06 L518.45 322 L518.09 323.12 L517.92 324.38 L517.95 325.66 L518.21 326.84 L518.7 327.88 L519.42 328.74 L520.34 329.36 L521.38 329.71 L522.48 329.81 L523.61 329.7 L524.76 329.4 L525.89 328.83 L527.01 328.08 L528.13 327.21 L527.87 326.79 L526.64 327.41 L525.45 327.77 L524.38 327.95 L523.44 328.02 L522.62 327.94 L521.95 327.73 L521.42 327.43 L520.98 327.07 L520.61 326.62 L520.29 326.06 L520.03 325.31 L519.89 324.38 L519.89 323.4 L520.01 322.52 L520.23 321.73 L520.54 321.04 L520.94 320.44 L521.55 320.18 L522.11 320.11 L522.59 320.18 L522.95 320.36 L523.31 320.45 L523.79 320.57 L524.37 321Z M528.08 318.6 L527.87 320.7 L527.68 322.8 L527.7 324.9 L527.72 327 L527.74 329.1 L527.76 331.2 L527.78 333.3 L527.81 335.39 L527.82 336.05 L527.79 336.64 L527.71 337.17 L527.58 337.66 L527.4 338.09 L527.16 338.49 L526.8 338.79 L526.37 338.99 L525.91 339.23 L525.37 339.45 L525.44 339.75 L526.05 339.7 L526.62 339.54 L527.1 339.22 L527.53 338.87 L527.95 338.49 L528.31 338.02 L528.61 337.47 L528.83 336.85 L528.99 336.16 L529.06 335.41 L529.08 333.3 L529.1 331.2 L529.12 329.1 L529.14 327 L529.16 324.9 L529.18 322.8 L528.99 320.7 L528.79 318.6Z"/>
<path d="M428.56 367.27 L428.19 366.42 L427.54 365.68 L426.65 365.28 L425.69 365.3 L424.8 365.56 L424 366 L423.3 366.6 L422.56 367.19 L421.86 367.93 L421.29 368.87 L420.88 369.98 L420.69 371.25 L420.73 372.54 L421.02 373.74 L421.57 374.78 L422.37 375.63 L423.35 376.22 L424.45 376.56 L425.62 376.66 L426.83 376.56 L428.08 376.27 L429.32 375.71 L430.56 374.96 L431.8 374.08 L431.55 373.64 L430.2 374.24 L428.91 374.6 L427.73 374.78 L426.68 374.87 L425.75 374.79 L424.97 374.58 L424.34 374.27 L423.84 373.89 L423.43 373.44 L423.09 372.88 L422.81 372.16 L422.66 371.25 L422.66 370.28 L422.79 369.41 L423.03 368.63 L423.39 367.92 L423.88 367.36 L424.54 367.11 L425.17 367.02 L425.72 367.08 L426.18 367.25 L426.61 367.35 L427.13 367.49 L427.74 367.91Z M431.79 365.5 L431.59 367.59 L431.4 369.68 L431.42 371.77 L431.44 373.86 L431.46 375.95 L431.48 378.04 L431.5 380.13 L431.52 382.21 L431.53 382.86 L431.5 383.45 L431.41 383.97 L431.27 384.46 L431.06 384.9 L430.78 385.3 L430.37 385.57 L429.89 385.78 L429.38 386.03 L428.78 386.25 L428.85 386.55 L429.52 386.5 L430.14 386.35 L430.66 386.04 L431.11 385.66 L431.56 385.29 L431.96 384.84 L432.28 384.29 L432.53 383.67 L432.69 382.98 L432.77 382.23 L432.8 380.13 L432.82 378.04 L432.84 375.95 L432.86 373.86 L432.88 371.77 L432.9 369.68 L432.71 367.59 L432.5 365.5Z"/>
<path d="M340.91 402.32 L340.46 403.51 L340.06 404.72 L339.8 405.95 L339.76 407.16 L339.81 408.32 L339.98 409.42 L340.26 410.45 L340.7 411.4 L341.32 412.23 L342.16 412.85 L343.16 413.18 L344.19 413.21 L345.06 413.04 L345.8 412.74 L346.44 412.32 L346.95 411.81 L347.54 411.39 L348.06 410.85 L348.49 410.19 L348.85 409.45 L349.11 408.62 L349.18 407.72 L349.1 406.77 L348.94 405.8 L348.06 405.78 L347.84 406.7 L347.6 407.52 L347.39 408.26 L347.27 408.95 L347.11 409.58 L346.91 410.14 L346.67 410.66 L346.37 411.12 L345.87 411.32 L345.35 411.41 L344.81 411.43 L344.25 411.37 L343.68 411.2 L343.3 410.94 L342.97 410.63 L342.64 410.21 L342.33 409.63 L342.07 408.91 L341.88 408.05 L341.76 407.08 L341.73 406.03 L341.66 404.91 L341.62 403.72 L341.69 402.48Z M337.76 404.41 L338.04 404.11 L338.28 403.9 L338.29 403.67 L338.31 403.46 L338.33 403.25 L338.45 403.12 L338.66 403.14 L338.85 403.18 L339.04 403.24 L339.25 403.29 L340.48 403.3 L341.73 403.3 L342.97 403.3 L344.21 403.3 L345.46 403.3 L346.7 403.3 L347.94 403.05 L349.19 402.8 L349.19 402 L347.94 401.75 L346.7 401.5 L345.46 401.5 L344.21 401.5 L342.97 401.5 L341.73 401.5 L340.48 401.5 L339.23 401.51 L338.82 401.6 L338.44 401.77 L338.12 402.01 L337.87 402.3 L337.58 402.52 L337.26 402.74 L336.98 403.03 L336.75 403.38 L336.8 403.83 L336.96 404.27Z M348.14 402.4 L347.94 404.7 L347.75 407 L347.77 409.31 L347.79 411.61 L347.81 413.91 L347.83 416.21 L347.85 418.52 L347.87 420.81 L347.89 421.41 L347.86 421.95 L347.79 422.44 L347.67 422.88 L347.49 423.29 L347.25 423.66 L346.88 423.92 L346.45 424.11 L346 424.34 L345.47 424.55 L345.53 424.85 L346.14 424.81 L346.7 424.67 L347.17 424.37 L347.59 424.03 L348 423.69 L348.37 423.26 L348.67 422.75 L348.9 422.17 L349.05 421.53 L349.13 420.83 L349.15 418.52 L349.17 416.21 L349.19 413.91 L349.21 411.61 L349.23 409.31 L349.25 407 L349.06 404.7 L348.85 402.4Z"/>
<path d="M286.57 419.51 L286.11 420.67 L285.71 421.86 L285.45 423.05 L285.4 424.23 L285.46 425.36 L285.62 426.45 L285.92 427.46 L286.37 428.39 L287.01 429.2 L287.85 429.8 L288.85 430.11 L289.89 430.14 L290.76 429.98 L291.52 429.69 L292.16 429.29 L292.69 428.79 L293.26 428.36 L293.79 427.83 L294.24 427.2 L294.6 426.47 L294.88 425.67 L294.95 424.79 L294.88 423.86 L294.71 422.91 L293.84 422.89 L293.62 423.78 L293.37 424.57 L293.17 425.29 L293.04 425.96 L292.88 426.57 L292.68 427.12 L292.44 427.62 L292.11 428.06 L291.6 428.24 L291.08 428.34 L290.52 428.36 L289.94 428.3 L289.35 428.13 L288.95 427.87 L288.62 427.56 L288.29 427.16 L287.98 426.61 L287.72 425.91 L287.52 425.09 L287.41 424.15 L287.38 423.14 L287.31 422.05 L287.27 420.89 L287.34 419.69Z M293.83 419.6 L293.29 420.07 L293.29 420.54 L293.29 421.01 L293.29 421.48 L293.29 421.96 L293.29 422.43 L293.29 422.9 L293.83 423.37 L294.72 423.37 L295.26 422.9 L295.26 422.43 L295.26 421.96 L295.26 421.48 L295.26 421.01 L295.26 420.54 L295.26 420.07 L294.72 419.6Z M295.28 419.51 L294.82 420.67 L294.42 421.86 L294.16 423.05 L294.11 424.23 L294.17 425.36 L294.33 426.45 L294.63 427.46 L295.08 428.39 L295.72 429.2 L296.56 429.8 L297.56 430.11 L298.6 430.14 L299.47 429.98 L300.23 429.69 L300.87 429.29 L301.4 428.79 L301.97 428.36 L302.5 427.83 L302.95 427.2 L303.31 426.47 L303.59 425.67 L303.66 424.79 L303.59 423.86 L303.42 422.91 L302.55 422.89 L302.33 423.78 L302.08 424.57 L301.88 425.29 L301.75 425.96 L301.59 426.57 L301.39 427.12 L301.15 427.62 L300.82 428.06 L300.31 428.24 L299.79 428.34 L299.23 428.36 L298.65 428.3 L298.06 428.13 L297.66 427.87 L297.33 427.56 L297 427.16 L296.69 426.61 L296.43 425.91 L296.23 425.09 L296.12 424.15 L296.09 423.14 L296.02 422.05 L295.98 420.89 L296.05 419.69Z M283.35 421.56 L283.64 421.28 L283.87 421.08 L283.88 420.86 L283.89 420.64 L283.92 420.43 L284.06 420.33 L284.26 420.35 L284.46 420.39 L284.65 420.44 L284.87 420.5 L287.22 420.5 L289.57 420.5 L291.92 420.5 L294.27 420.5 L296.62 420.5 L298.97 420.5 L301.32 420.25 L303.67 420 L303.67 419.2 L301.32 418.95 L298.97 418.7 L296.62 418.7 L294.27 418.7 L291.92 418.7 L289.57 418.7 L287.22 418.7 L284.86 418.7 L284.45 418.8 L284.06 418.96 L283.73 419.19 L283.47 419.48 L283.2 419.71 L282.88 419.92 L282.59 420.2 L282.36 420.54 L282.4 420.99 L282.56 421.42Z M302.63 419.6 L302.42 421.84 L302.23 424.08 L302.25 426.32 L302.27 428.56 L302.29 430.81 L302.31 433.05 L302.33 435.29 L302.36 437.52 L302.37 438.1 L302.35 438.62 L302.28 439.09 L302.16 439.53 L301.98 439.92 L301.73 440.29 L301.34 440.53 L300.91 440.71 L300.45 440.94 L299.9 441.15 L299.97 441.45 L300.58 441.42 L301.15 441.29 L301.63 441 L302.05 440.65 L302.47 440.32 L302.84 439.91 L303.14 439.42 L303.37 438.85 L303.53 438.22 L303.61 437.54 L303.64 435.29 L303.65 433.05 L303.67 430.81 L303.69 428.56 L303.71 426.32 L303.73 424.08 L303.54 421.84 L303.34 419.6Z"/>
<path d="M176.72 296.12 L176.28 297.28 L175.89 298.46 L175.64 299.65 L175.6 300.82 L175.65 301.95 L175.8 303.02 L176.07 304.03 L176.48 304.96 L177.07 305.77 L177.88 306.38 L178.84 306.71 L179.84 306.74 L180.68 306.57 L181.39 306.27 L182 305.86 L182.49 305.37 L183.06 304.96 L183.56 304.42 L183.97 303.78 L184.31 303.06 L184.57 302.26 L184.63 301.38 L184.54 300.45 L184.37 299.51 L183.49 299.49 L183.28 300.38 L183.03 301.18 L182.83 301.9 L182.72 302.57 L182.57 303.18 L182.39 303.73 L182.17 304.22 L181.89 304.67 L181.42 304.87 L180.93 304.96 L180.42 304.97 L179.9 304.9 L179.38 304.73 L179.04 304.49 L178.75 304.19 L178.44 303.79 L178.14 303.23 L177.89 302.53 L177.71 301.69 L177.6 300.75 L177.57 299.73 L177.5 298.64 L177.45 297.48 L177.5 296.28Z M183.49 296.2 L182.95 296.67 L182.95 297.14 L182.95 297.61 L182.95 298.08 L182.95 298.56 L182.95 299.03 L182.95 299.5 L183.49 299.97 L184.38 299.97 L184.92 299.5 L184.92 299.03 L184.92 298.56 L184.92 298.08 L184.92 297.61 L184.92 297.14 L184.92 296.67 L184.38 296.2Z M184.84 296.12 L184.4 297.28 L184.02 298.46 L183.77 299.65 L183.73 300.82 L183.78 301.95 L183.93 303.02 L184.2 304.03 L184.61 304.96 L185.2 305.77 L186.01 306.38 L186.97 306.71 L187.97 306.74 L188.81 306.57 L189.52 306.27 L190.12 305.86 L190.62 305.37 L191.18 304.96 L191.68 304.42 L192.1 303.78 L192.44 303.06 L192.69 302.26 L192.76 301.38 L192.67 300.45 L192.5 299.51 L191.62 299.49 L191.41 300.38 L191.16 301.18 L190.96 301.9 L190.85 302.57 L190.7 303.18 L190.51 303.73 L190.29 304.22 L190.02 304.67 L189.55 304.87 L189.06 304.96 L188.55 304.97 L188.03 304.9 L187.51 304.73 L187.17 304.49 L186.88 304.19 L186.57 303.79 L186.27 303.23 L186.02 302.53 L185.84 301.69 L185.73 300.75 L185.7 299.73 L185.62 298.64 L185.57 297.48 L185.62 296.28Z M173.77 298.16 L174.06 297.87 L174.3 297.67 L174.3 297.45 L174.31 297.24 L174.33 297.04 L174.43 296.9 L174.63 296.92 L174.8 296.98 L174.98 297.04 L175.17 297.1 L177.36 297.1 L179.55 297.1 L181.74 297.1 L183.94 297.1 L186.13 297.1 L188.32 297.1 L190.52 296.85 L192.71 296.6 L192.71 295.8 L190.52 295.55 L188.32 295.3 L186.13 295.3 L183.94 295.3 L181.74 295.3 L179.55 295.3 L177.36 295.3 L175.16 295.3 L174.76 295.4 L174.39 295.58 L174.08 295.82 L173.84 296.11 L173.56 296.31 L173.25 296.52 L172.97 296.81 L172.75 297.15 L172.81 297.59 L172.97 298.02Z M191.62 296.2 L191.08 297.43 L191.08 298.65 L191.08 299.88 L191.08 301.1 L191.08 302.33 L191.08 303.56 L191.08 304.78 L191.62 306.01 L192.51 306.01 L193.05 304.78 L193.05 303.56 L193.05 302.33 L193.05 301.1 L193.05 299.88 L193.05 298.65 L193.05 297.43 L192.51 296.2Z"/>
<path d="M264.8 255.42 L264.36 256.58 L263.97 257.76 L263.72 258.95 L263.68 260.12 L263.73 261.25 L263.88 262.32 L264.15 263.33 L264.56 264.26 L265.15 265.07 L265.95 265.68 L266.91 266.01 L267.91 266.04 L268.74 265.87 L269.45 265.57 L270.04 265.15 L270.54 264.67 L271.1 264.26 L271.6 263.72 L272.01 263.08 L272.35 262.36 L272.6 261.56 L272.66 260.68 L272.57 259.75 L272.41 258.81 L271.53 258.79 L271.31 259.68 L271.07 260.48 L270.87 261.2 L270.75 261.87 L270.61 262.48 L270.42 263.03 L270.21 263.52 L269.94 263.97 L269.47 264.17 L268.98 264.26 L268.48 264.27 L267.97 264.2 L267.46 264.03 L267.12 263.79 L266.83 263.49 L266.52 263.09 L266.23 262.54 L265.98 261.83 L265.79 260.99 L265.68 260.05 L265.65 259.03 L265.58 257.94 L265.53 256.78 L265.58 255.58Z M261.88 257.46 L262.16 257.17 L262.4 256.97 L262.41 256.74 L262.41 256.54 L262.43 256.34 L262.52 256.2 L262.72 256.22 L262.9 256.27 L263.07 256.34 L263.26 256.39 L264.42 256.4 L265.59 256.4 L266.76 256.4 L267.93 256.4 L269.1 256.4 L270.28 256.4 L271.45 256.15 L272.62 255.9 L272.62 255.1 L271.45 254.85 L270.28 254.6 L269.1 254.6 L267.93 254.6 L266.76 254.6 L265.59 254.6 L264.42 254.6 L263.24 254.61 L262.85 254.7 L262.48 254.88 L262.17 255.12 L261.94 255.41 L261.65 255.61 L261.34 255.82 L261.07 256.11 L260.85 256.45 L260.91 256.9 L261.08 257.32Z M271.52 255.5 L270.98 256.73 L270.98 257.95 L270.98 259.18 L270.98 260.4 L270.98 261.63 L270.98 262.86 L270.98 264.08 L271.52 265.31 L272.41 265.31 L272.95 264.08 L272.95 262.86 L272.95 261.63 L272.95 260.4 L272.95 259.18 L272.95 257.95 L272.95 256.73 L272.41 255.5Z"/>
<path d="M290.26 172.57 L289.81 173.7 L289.41 174.87 L289.15 176.04 L289.11 177.2 L289.16 178.32 L289.32 179.38 L289.6 180.39 L290.03 181.3 L290.65 182.1 L291.48 182.7 L292.46 183.01 L293.47 183.04 L294.33 182.87 L295.06 182.59 L295.69 182.18 L296.2 181.69 L296.76 181.27 L297.28 180.76 L297.71 180.13 L298.06 179.41 L298.33 178.62 L298.41 177.75 L298.32 176.84 L298.16 175.91 L297.28 175.89 L297.07 176.76 L296.82 177.54 L296.62 178.25 L296.5 178.91 L296.35 179.51 L296.16 180.05 L295.92 180.54 L295.62 180.97 L295.12 181.15 L294.62 181.24 L294.08 181.26 L293.53 181.2 L292.97 181.03 L292.6 180.78 L292.28 180.48 L291.97 180.09 L291.67 179.55 L291.41 178.87 L291.22 178.05 L291.11 177.13 L291.08 176.13 L291.01 175.06 L290.96 173.92 L291.03 172.73Z M287.16 174.58 L287.44 174.3 L287.68 174.11 L287.68 173.89 L287.69 173.68 L287.71 173.48 L287.84 173.37 L288.04 173.39 L288.23 173.44 L288.42 173.49 L288.63 173.54 L289.84 173.55 L291.06 173.55 L292.29 173.55 L293.51 173.55 L294.73 173.55 L295.95 173.55 L297.17 173.3 L298.39 173.05 L298.39 172.25 L297.17 172 L295.95 171.75 L294.73 171.75 L293.51 171.75 L292.29 171.75 L291.06 171.75 L289.84 171.75 L288.61 171.76 L288.21 171.85 L287.83 172.01 L287.51 172.24 L287.26 172.53 L286.99 172.75 L286.67 172.96 L286.39 173.23 L286.15 173.57 L286.21 174.01 L286.36 174.44Z M299.11 162.84 L298.76 163.3 L298.4 163.82 L298.15 164.42 L297.92 165.07 L297.72 165.76 L297.55 166.49 L297.4 167.26 L297.28 168.08 L297.18 168.94 L297.1 169.85 L297.07 171.42 L297.05 172.97 L297.03 174.53 L297.01 176.09 L296.99 177.64 L296.97 179.2 L297.16 180.75 L297.37 182.31 L298.08 182.31 L298.28 180.75 L298.47 179.2 L298.45 177.64 L298.43 176.09 L298.41 174.53 L298.39 172.97 L298.37 171.42 L298.35 169.87 L298.36 169.02 L298.4 168.19 L298.46 167.41 L298.54 166.66 L298.65 165.96 L298.78 165.3 L298.93 164.68 L299.1 164.1 L299.21 163.51 L299.37 162.96Z"/>
<path d="M222.07 164.72 L221.61 165.9 L221.21 167.1 L220.95 168.32 L220.9 169.52 L220.96 170.67 L221.12 171.77 L221.42 172.8 L221.86 173.74 L222.5 174.56 L223.34 175.17 L224.35 175.5 L225.39 175.53 L226.26 175.36 L227.02 175.07 L227.66 174.66 L228.19 174.15 L228.77 173.72 L229.3 173.18 L229.75 172.54 L230.1 171.8 L230.38 170.98 L230.46 170.09 L230.38 169.14 L230.21 168.18 L229.34 168.16 L229.12 169.06 L228.87 169.88 L228.66 170.61 L228.54 171.29 L228.38 171.91 L228.18 172.48 L227.93 172.99 L227.61 173.44 L227.1 173.63 L226.57 173.73 L226.02 173.75 L225.44 173.69 L224.86 173.52 L224.46 173.26 L224.13 172.95 L223.8 172.53 L223.48 171.96 L223.22 171.25 L223.02 170.4 L222.91 169.44 L222.88 168.41 L222.81 167.29 L222.77 166.11 L222.84 164.88Z M229.33 164.8 L228.79 165.28 L228.79 165.76 L228.79 166.24 L228.79 166.73 L228.79 167.21 L228.79 167.69 L228.79 168.17 L229.33 168.65 L230.22 168.65 L230.76 168.17 L230.76 167.69 L230.76 167.21 L230.76 166.73 L230.76 166.24 L230.76 165.76 L230.76 165.28 L230.22 164.8Z M230.78 164.72 L230.32 165.9 L229.92 167.1 L229.66 168.32 L229.61 169.52 L229.67 170.67 L229.83 171.77 L230.13 172.8 L230.57 173.74 L231.21 174.56 L232.05 175.17 L233.06 175.5 L234.1 175.53 L234.97 175.36 L235.73 175.07 L236.37 174.66 L236.9 174.15 L237.48 173.72 L238.01 173.18 L238.46 172.54 L238.81 171.8 L239.09 170.98 L239.17 170.09 L239.09 169.14 L238.92 168.18 L238.05 168.16 L237.83 169.06 L237.58 169.88 L237.37 170.61 L237.25 171.29 L237.09 171.91 L236.89 172.48 L236.64 172.99 L236.32 173.44 L235.81 173.63 L235.28 173.73 L234.73 173.75 L234.15 173.69 L233.57 173.52 L233.17 173.26 L232.84 172.95 L232.51 172.53 L232.19 171.96 L231.93 171.25 L231.73 170.4 L231.62 169.44 L231.59 168.41 L231.52 167.29 L231.48 166.11 L231.55 164.88Z M218.85 166.79 L219.14 166.5 L219.38 166.3 L219.38 166.07 L219.4 165.85 L219.43 165.64 L219.56 165.52 L219.77 165.54 L219.96 165.59 L220.15 165.64 L220.37 165.7 L222.72 165.7 L225.07 165.7 L227.42 165.7 L229.77 165.7 L232.12 165.7 L234.47 165.7 L236.82 165.45 L239.17 165.2 L239.17 164.4 L236.82 164.15 L234.47 163.9 L232.12 163.9 L229.77 163.9 L227.42 163.9 L225.07 163.9 L222.72 163.9 L220.36 163.9 L219.94 164 L219.56 164.17 L219.23 164.4 L218.97 164.69 L218.7 164.92 L218.37 165.13 L218.09 165.41 L217.85 165.76 L217.9 166.21 L218.06 166.65Z M239.92 154.64 L239.55 155.12 L239.18 155.66 L238.93 156.29 L238.7 156.95 L238.5 157.67 L238.32 158.42 L238.17 159.23 L238.04 160.07 L237.94 160.96 L237.86 161.9 L237.83 163.52 L237.81 165.13 L237.79 166.74 L237.77 168.36 L237.75 169.97 L237.73 171.58 L237.92 173.19 L238.13 174.8 L238.84 174.8 L239.04 173.19 L239.23 171.58 L239.21 169.97 L239.19 168.36 L239.17 166.74 L239.15 165.13 L239.14 163.52 L239.11 161.92 L239.12 161.03 L239.16 160.18 L239.23 159.37 L239.31 158.6 L239.42 157.87 L239.56 157.18 L239.71 156.54 L239.89 155.93 L240.01 155.33 L240.17 154.76Z"/>
</g>
<g stroke="#000" stroke-width="0.45">
<line x1="356.5" y1="113.1" x2="374.8" y2="90.5"/><line x1="398.9" y1="164.4" x2="421" y2="132"/><line x1="447.1" y1="171.1" x2="461.3" y2="161.4"/><line x1="520" y1="203.2" x2="540.6" y2="181"/><line x1="495.9" y1="224.3" x2="538.9" y2="212.9"/><line x1="477.2" y1="301.1" x2="502.7" y2="317.7"/><line x1="411.3" y1="322.9" x2="421.7" y2="359.8"/><line x1="315.9" y1="366" x2="334.1" y2="396.3"/><line x1="270.4" y1="372.9" x2="286.5" y2="413.9"/><line x1="224.9" y1="279.1" x2="200.3" y2="291.9"/><line x1="276.6" y1="305.9" x2="270.8" y2="271.2"/><line x1="320" y1="211" x2="303.4" y2="188.1"/><line x1="260.2" y1="202.7" x2="241.3" y2="180"/></g>
<g fill="none" stroke="#f00" stroke-width="1.1">
<rect x="322" y="87.4" width="21.7" height="21.3" rx="3" ry="3"/><rect x="308.2" y="235.1" width="21.7" height="21.7" rx="3" ry="3"/><rect x="455.2" y="267.4" width="22.3" height="21.3" rx="3" ry="3"/><rect x="385.8" y="329.8" width="21.7" height="21.4" rx="3" ry="3"/><rect x="229.2" y="270.5" width="21.4" height="22" rx="3" ry="3"/><rect x="251.1" y="377" width="21.5" height="21.6" rx="3" ry="3"/></g>
<g fill="none" stroke="#f00" stroke-width="0.52">
<path d="M340.7 109.4 C344.08 113.33 355.27 127.12 361 133 C366.73 138.88 370.92 141.15 375.1 144.7 C379.28 148.25 382.43 151.28 386.1 154.3 C389.77 157.32 395.27 161.38 397.1 162.8"/><path d="M331 237.2 C336.05 232.83 354.53 217.2 361.3 211 C368.07 204.8 368.15 203.83 371.6 200 C375.05 196.17 378.67 192.28 382 188 C385.33 183.72 389.05 177.88 391.6 174.3 C394.15 170.72 396.35 167.8 397.3 166.5"/><path d="M398.2 329.8 C399.4 322 402.35 297.6 405.4 283 C408.45 268.4 413.83 251.1 416.5 242.2 C419.17 233.3 418.9 236.13 421.4 229.6 C423.9 223.07 427.47 212.33 431.5 203 C435.53 193.67 443.25 178.5 445.6 173.6"/><path d="M453.8 281.2 C451.5 281.93 447.3 283.13 440 285.6 C432.7 288.07 421.67 291.5 410 296 C398.33 300.5 379.08 308.7 370 312.6 C360.92 316.5 362.63 315.67 355.5 319.4 C348.37 323.13 334.78 330.75 327.2 335 C319.62 339.25 316.2 341.12 310 344.9 C303.8 348.68 296.28 353.37 290 357.7 C283.72 362.03 275.25 368.7 272.3 370.9"/><path d="M241.6 293.2 C241.92 294.33 241.45 292.43 243.5 300 C245.55 307.57 249.88 327.12 253.9 338.6 C257.92 350.08 265.1 363.58 267.6 368.9 C270.1 374.22 268.68 370.23 268.9 370.5"/><path d="M255.6 375.6 C253.7 372.18 248.75 367.7 244.2 355.1 C239.65 342.5 231.45 312.3 228.3 300 C225.15 287.7 225.8 284.42 225.3 281.3"/></g>
<g fill="#f00">
<polygon points="397.1,162.8 392.96,161.62 394.91,159.09"/><polygon points="397.3,166.5 396.23,170.67 393.65,168.79"/><polygon points="445.6,173.6 445.31,177.9 442.43,176.51"/><polygon points="272.3,370.9 274.55,367.23 276.46,369.79"/><polygon points="268.9,370.5 265.14,368.4 267.62,366.39"/><polygon points="225.3,281.3 227.51,285 224.35,285.5"/></g>
<g fill="#000">
<circle cx="356.5" cy="113.1" r="1.8"/><circle cx="398.9" cy="164.4" r="1.8"/><circle cx="447.1" cy="171.1" r="1.8"/><circle cx="520" cy="203.2" r="1.8"/><circle cx="495.9" cy="224.3" r="1.8"/><circle cx="477.2" cy="301.1" r="1.8"/><circle cx="411.3" cy="322.9" r="1.8"/><circle cx="315.9" cy="366" r="1.8"/><circle cx="270.4" cy="372.9" r="1.8"/><circle cx="224.9" cy="279.1" r="1.8"/><circle cx="276.6" cy="305.9" r="1.8"/><circle cx="320" cy="211" r="1.8"/><circle cx="260.2" cy="202.7" r="1.8"/></g>

</svg>
<div class="ln" style="top:461px;letter-spacing:-0.03px"><span style="left:0.00px">Figure</span> <span style="left:41.84px">3:</span> <span style="left:57.65px">A</span> <span style="left:71.30px">t-SNE</span> <span style="left:111.50px">visualization</span> <span style="left:190.61px">of</span> <span style="left:205.89px">the</span> <span style="left:226.98px">embeddings</span> <span style="left:302.02px">learned</span> <span style="left:348.80px">by</span> <span style="left:366.58px">prototypical</span> <span style="left:441.55px">networks</span> <span style="left:499.16px">on</span> <span style="left:516.94px">the</span> <span style="left:538.02px">Omniglot</span></div>
<div class="ln" style="top:477px"><span style="left:0.00px">dataset.</span> <span style="left:51.48px">A</span> <span style="left:66.55px">subset</span> <span style="left:108.28px">of</span> <span style="left:125.01px">the</span> <span style="left:147.56px">Tengwar</span> <span style="left:204.05px">script</span> <span style="left:241.61px">is</span> <span style="left:255.85px">shown</span> <span style="left:299.25px">(an</span> <span style="left:322.63px">alphabet</span> <span style="left:377.67px">in</span> <span style="left:393.57px">the</span> <span style="left:416.12px">test</span> <span style="left:441.19px">set).</span> <span style="left:472.69px">Class</span> <span style="left:509.43px">prototypes</span> <span style="left:576.99px">are</span></div>
<div class="ln" style="top:494px"><span style="left:0.00px">indicated</span> <span style="left:57.95px">in</span> <span style="left:72.59px">black.</span> <span style="left:113.21px">Several</span> <span style="left:161.16px">misclassified</span> <span style="left:242.46px">characters</span> <span style="left:306.22px">are</span> <span style="left:327.50px">highlighted</span> <span style="left:398.80px">in</span> <span style="left:413.43px">red</span> <span style="left:435.56px">along</span> <span style="left:471.85px">with</span> <span style="left:501.49px">arrows</span> <span style="left:545.28px">pointing</span></div>
<div class="ln" style="top:510px"><span style="left:0.00px">to</span> <span style="left:15.42px">the</span> <span style="left:37.50px">correct</span> <span style="left:82.89px">prototype.</span></div>

</body></html>
